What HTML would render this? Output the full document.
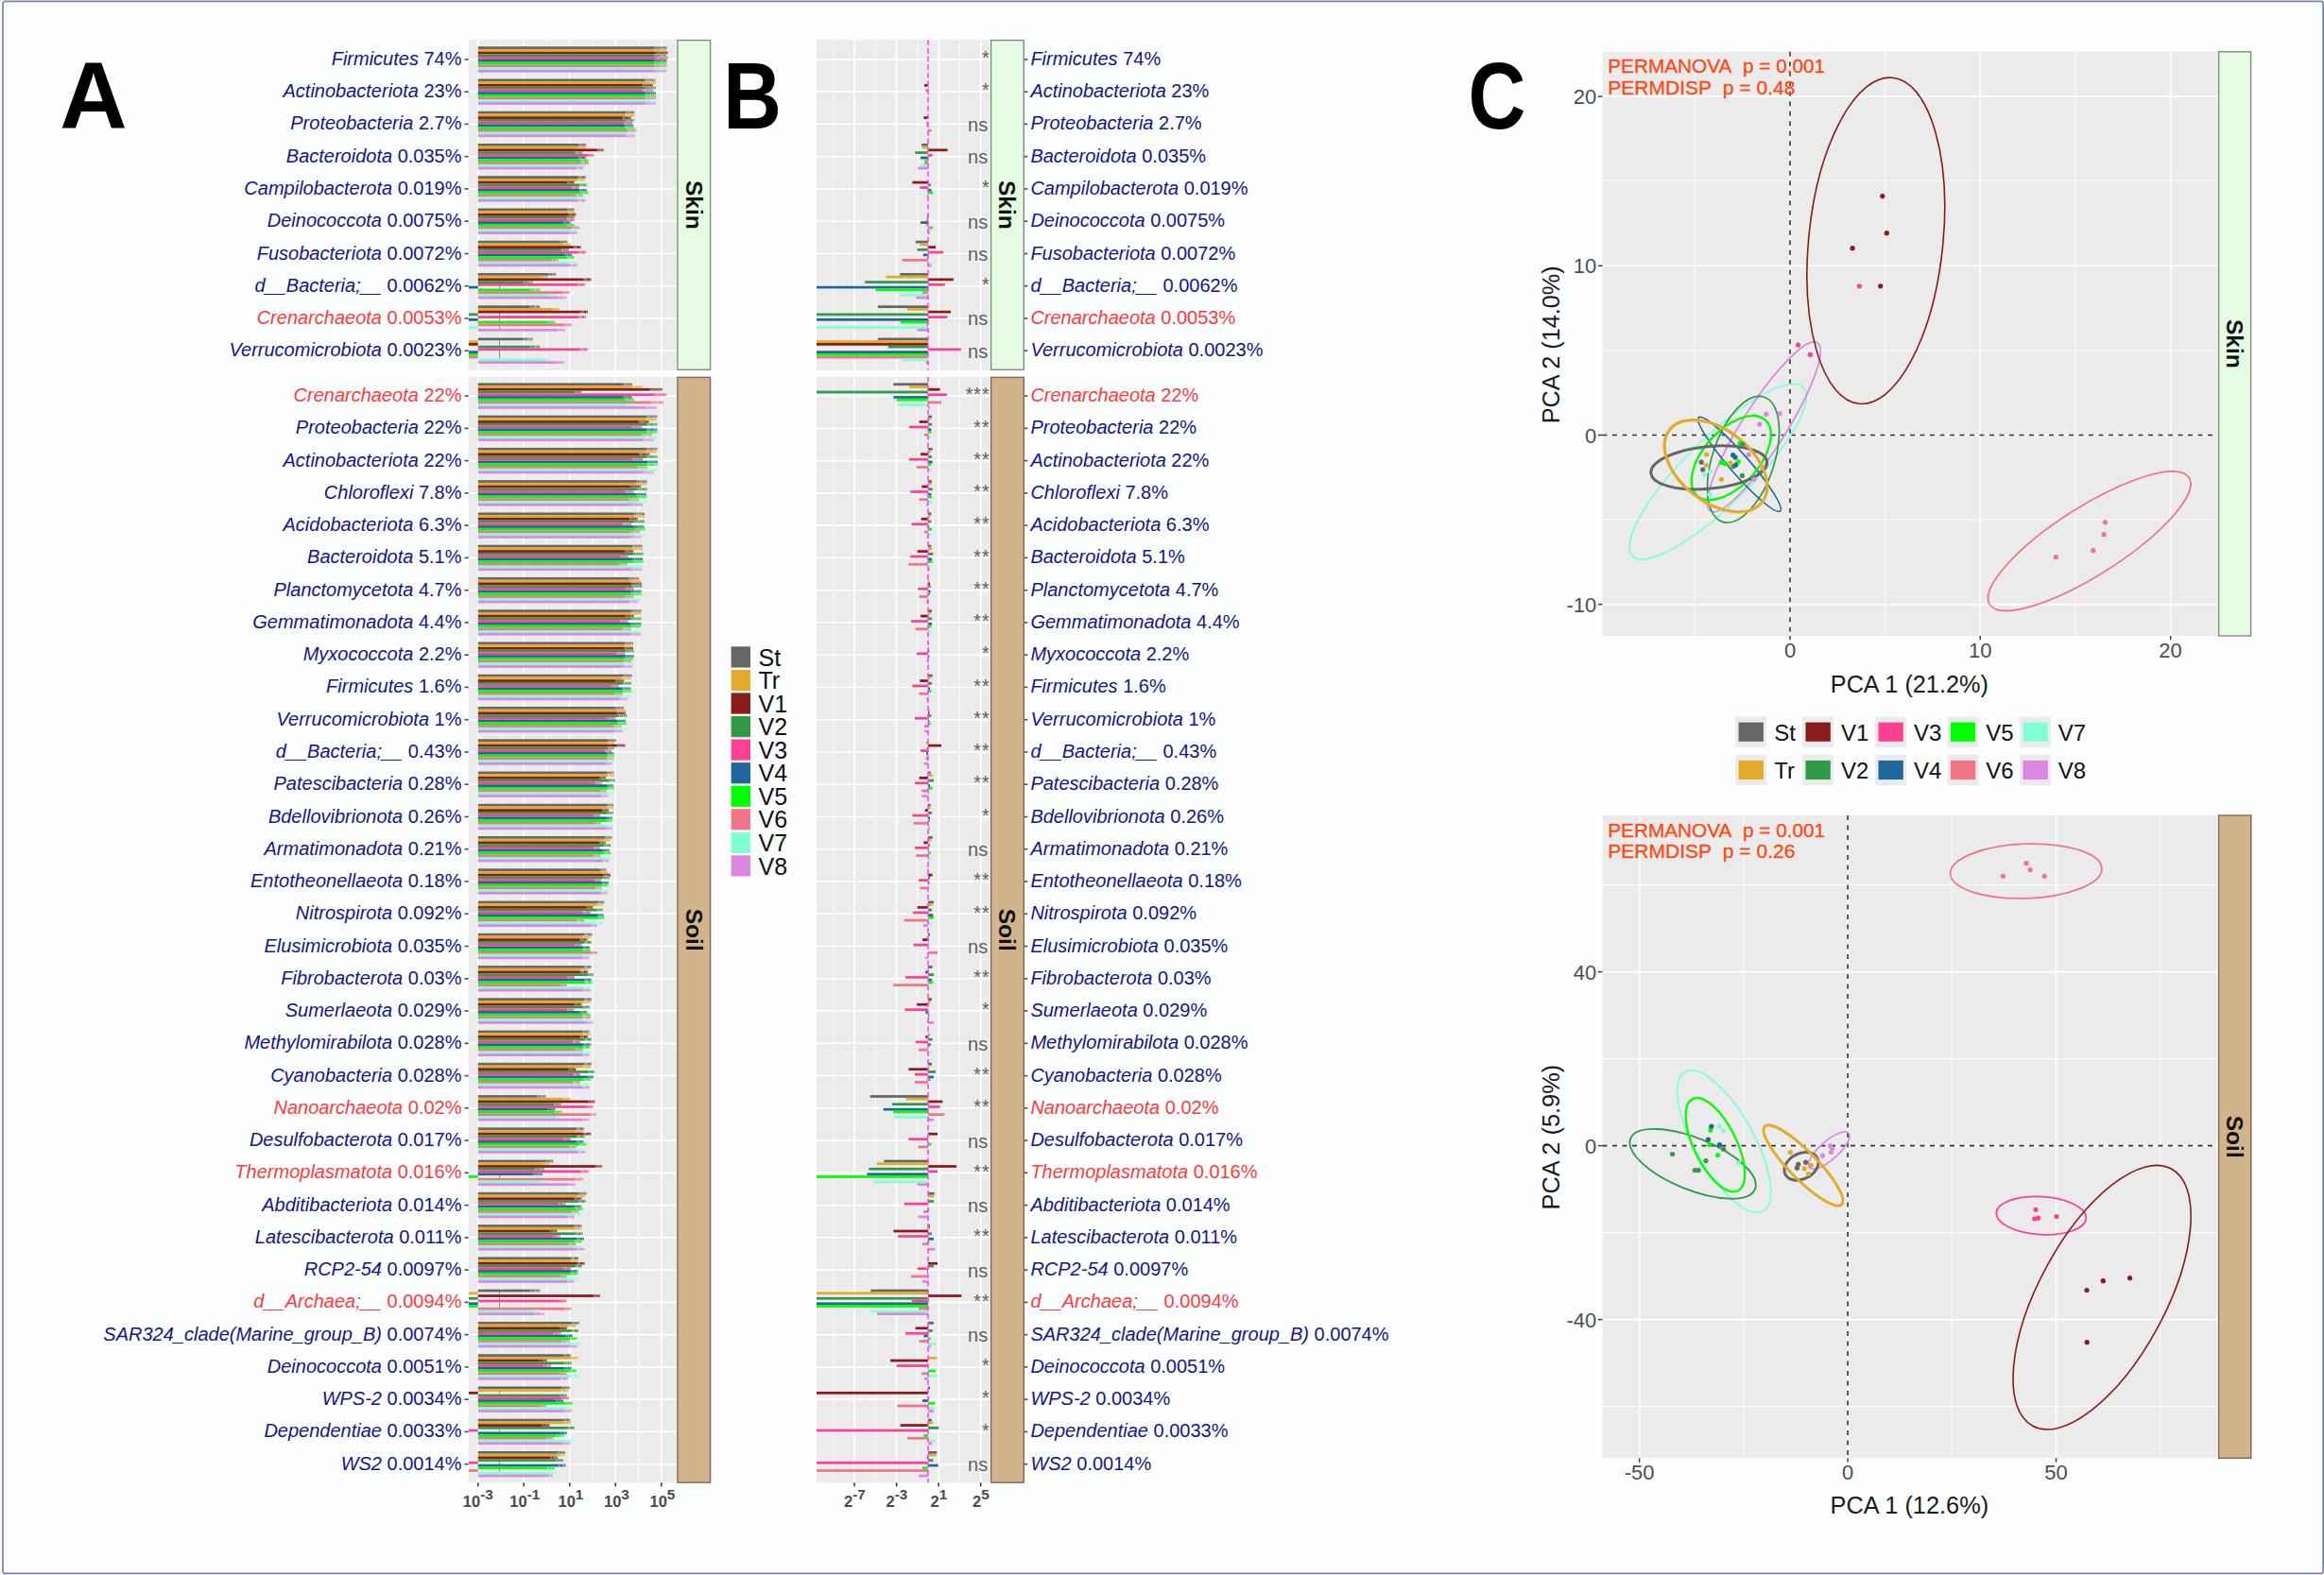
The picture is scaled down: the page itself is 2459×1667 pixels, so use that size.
<!DOCTYPE html>
<html lang="en"><head><meta charset="utf-8"><title>Figure</title>
<style>
html,body{margin:0;padding:0;background:#FBFCFE;}
body{width:2459px;height:1667px;overflow:hidden;}
svg{display:block;font-family:'Liberation Sans', Arial, sans-serif;}
.lab{font-size:20px;}
.it{font-style:italic;}
.navy{fill:#15158a;}
.red{fill:#ff3b3b;}
.sig{font-size:20px;fill:#5e5e5e;}
.sigs{font-size:19.5px;letter-spacing:1px;}
.ax{font-size:16.5px;font-weight:bold;fill:#4a4a4a;}
.sup{font-size:15.3px;}
.tk{font-size:22px;fill:#4d4d4d;}
.ttl{font-size:25px;fill:#1a1a1a;}
.leg{font-size:24px;fill:#111;}
.leg2{font-size:25px;fill:#111;}
.strip{font-size:24.6px;font-weight:bold;fill:#111;}
.big{font-size:101px;font-weight:bold;fill:#000;}
.perm{font-size:20.4px;fill:#ff4712;stroke:#ff4712;stroke-width:0.3px;}
.t{font-size:4px;font-weight:bold;fill:#fff;fill-opacity:0.6;text-anchor:end;}
</style></head><body>
<svg width="2459" height="1667" viewBox="0 0 2459 1667">
<rect x="0" y="0" width="2459" height="1667" fill="#FBFCFE"/>
<rect x="0" y="0" width="2459" height="1.2" fill="#DDE0EA"/>
<rect x="3" y="1.5" width="2455.1" height="1663.8" rx="2.5" fill="#FBFCFE" stroke="#7c80a6" stroke-width="1.7"/>
<rect x="57" y="33" width="2345" height="1590" fill="#FCFDFF"/>

<rect x="495.7" y="42.2" width="220.1" height="349.7" fill="#EBEBEB"/>
<path d="M530.00 42.2V391.9M578.50 42.2V391.9M627.00 42.2V391.9M675.50 42.2V391.9" stroke="#fff" stroke-width="0.8" fill="none"/>
<path d="M505.75 42.2V391.9M554.25 42.2V391.9M602.75 42.2V391.9M651.25 42.2V391.9M699.75 42.2V391.9" stroke="#fff" stroke-width="1.6" fill="none"/>
<path d="M495.7 62.90H715.8M495.7 97.16H715.8M495.7 131.42H715.8M495.7 165.68H715.8M495.7 199.94H715.8M495.7 234.20H715.8M495.7 268.46H715.8M495.7 302.72H715.8M495.7 336.98H715.8M495.7 371.24H715.8" stroke="#fff" stroke-width="1.6" fill="none"/>
<rect x="505.75" y="49.20" width="199.68" height="2.74" fill="#666666"/>
<text class="t" x="705.13" y="52.09">171462</text>
<rect x="505.75" y="51.94" width="199.68" height="2.74" fill="#E2AC2A"/>
<text class="t" x="705.13" y="54.83">171462</text>
<rect x="505.75" y="54.68" width="200.82" height="2.74" fill="#8B1A1A"/>
<text class="t" x="706.27" y="57.57">191116</text>
<rect x="505.75" y="57.42" width="199.68" height="2.74" fill="#329A47"/>
<text class="t" x="705.13" y="60.31">171462</text>
<rect x="505.75" y="60.16" width="200.82" height="2.74" fill="#FF3E96"/>
<text class="t" x="706.27" y="63.05">191116</text>
<rect x="505.75" y="62.90" width="199.68" height="2.74" fill="#1F6699"/>
<text class="t" x="705.13" y="65.79">171462</text>
<rect x="505.75" y="65.64" width="199.68" height="2.74" fill="#00FF00"/>
<text class="t" x="705.13" y="68.53">171462</text>
<rect x="505.75" y="68.38" width="199.68" height="2.74" fill="#F07585"/>
<text class="t" x="705.13" y="71.27">171462</text>
<rect x="505.75" y="71.12" width="199.68" height="2.74" fill="#7FFFD4"/>
<text class="t" x="705.13" y="74.01">171462</text>
<rect x="505.75" y="73.86" width="199.68" height="2.74" fill="#DB86E0"/>
<text class="t" x="705.13" y="76.75">171462</text>
<path d="M690.1 95.79H693.9" stroke="#fff" stroke-width="1.9" fill="none"/>
<rect x="505.75" y="83.46" width="187.68" height="2.74" fill="#666666"/>
<text class="t" x="693.13" y="86.35">54868</text>
<rect x="505.75" y="86.20" width="188.25" height="2.74" fill="#E2AC2A"/>
<text class="t" x="693.70" y="89.09">57928</text>
<rect x="505.75" y="88.94" width="184.82" height="2.74" fill="#8B1A1A"/>
<text class="t" x="690.27" y="91.83">41831</text>
<rect x="505.75" y="91.68" width="188.25" height="2.74" fill="#329A47"/>
<text class="t" x="693.70" y="94.57">57928</text>
<rect x="505.75" y="94.42" width="185.39" height="2.74" fill="#FF3E96"/>
<text class="t" x="690.84" y="97.31">44164</text>
<rect x="505.75" y="97.16" width="188.25" height="2.74" fill="#1F6699"/>
<text class="t" x="693.70" y="100.05">57928</text>
<rect x="505.75" y="99.90" width="188.25" height="2.74" fill="#00FF00"/>
<text class="t" x="693.70" y="102.79">57928</text>
<rect x="505.75" y="102.64" width="188.25" height="2.74" fill="#F07585"/>
<text class="t" x="693.70" y="105.53">57928</text>
<rect x="505.75" y="105.38" width="188.25" height="2.74" fill="#7FFFD4"/>
<text class="t" x="693.70" y="108.27">57928</text>
<rect x="505.75" y="108.12" width="188.25" height="2.74" fill="#DB86E0"/>
<text class="t" x="693.70" y="111.01">57928</text>
<rect x="505.75" y="117.72" width="165.39" height="2.74" fill="#666666"/>
<text class="t" x="670.84" y="120.61">6612</text>
<rect x="505.75" y="120.46" width="165.39" height="2.74" fill="#E2AC2A"/>
<text class="t" x="670.84" y="123.35">6612</text>
<rect x="505.75" y="123.20" width="161.96" height="2.74" fill="#8B1A1A"/>
<text class="t" x="667.41" y="126.09">4775</text>
<rect x="505.75" y="125.94" width="164.82" height="2.74" fill="#329A47"/>
<text class="t" x="670.27" y="128.83">6263</text>
<rect x="505.75" y="128.68" width="163.11" height="2.74" fill="#FF3E96"/>
<text class="t" x="668.56" y="131.57">5322</text>
<rect x="505.75" y="131.42" width="164.25" height="2.74" fill="#1F6699"/>
<text class="t" x="669.70" y="134.31">5932</text>
<rect x="505.75" y="134.16" width="165.39" height="2.74" fill="#00FF00"/>
<text class="t" x="670.84" y="137.05">6612</text>
<rect x="505.75" y="136.90" width="167.68" height="2.74" fill="#F07585"/>
<text class="t" x="673.13" y="139.79">8214</text>
<rect x="505.75" y="139.64" width="165.39" height="2.74" fill="#7FFFD4"/>
<text class="t" x="670.84" y="142.53">6612</text>
<rect x="505.75" y="142.38" width="165.96" height="2.74" fill="#DB86E0"/>
<text class="t" x="671.41" y="145.27">6981</text>
<rect x="505.75" y="151.98" width="114.54" height="2.74" fill="#666666"/>
<text class="t" x="619.99" y="154.87">52.9</text>
<rect x="505.75" y="154.72" width="114.54" height="2.74" fill="#E2AC2A"/>
<text class="t" x="619.99" y="157.61">52.9</text>
<rect x="505.75" y="157.46" width="132.82" height="2.74" fill="#8B1A1A"/>
<text class="t" x="638.27" y="160.35">300</text>
<rect x="505.75" y="160.20" width="110.54" height="2.74" fill="#329A47"/>
<text class="t" x="615.99" y="163.09">36.2</text>
<rect x="505.75" y="162.94" width="122.54" height="2.74" fill="#FF3E96"/>
<text class="t" x="627.99" y="165.83">113</text>
<rect x="505.75" y="165.68" width="113.96" height="2.74" fill="#1F6699"/>
<text class="t" x="619.41" y="168.57">50.1</text>
<rect x="505.75" y="168.42" width="116.82" height="2.74" fill="#00FF00"/>
<text class="t" x="622.27" y="171.31">65.7</text>
<rect x="505.75" y="171.16" width="116.82" height="2.74" fill="#F07585"/>
<text class="t" x="622.27" y="174.05">65.7</text>
<rect x="505.75" y="173.90" width="113.96" height="2.74" fill="#7FFFD4"/>
<text class="t" x="619.41" y="176.79">50.1</text>
<rect x="505.75" y="176.64" width="111.68" height="2.74" fill="#DB86E0"/>
<text class="t" x="617.13" y="179.53">40.3</text>
<path d="M611.9 198.57H618.8" stroke="#fff" stroke-width="1.9" fill="none"/>
<rect x="505.75" y="186.24" width="113.96" height="2.74" fill="#666666"/>
<text class="t" x="619.41" y="189.13">50.1</text>
<rect x="505.75" y="188.98" width="112.82" height="2.74" fill="#E2AC2A"/>
<text class="t" x="618.27" y="191.87">44.9</text>
<rect x="505.75" y="191.72" width="101.96" height="2.74" fill="#8B1A1A"/>
<text class="t" x="607.41" y="194.61">16.0</text>
<rect x="505.75" y="194.46" width="115.11" height="2.74" fill="#329A47"/>
<text class="t" x="620.56" y="197.35">55.8</text>
<rect x="505.75" y="197.20" width="107.11" height="2.74" fill="#FF3E96"/>
<text class="t" x="612.56" y="200.09">26.1</text>
<rect x="505.75" y="199.94" width="115.11" height="2.74" fill="#1F6699"/>
<text class="t" x="620.56" y="202.83">55.8</text>
<rect x="505.75" y="202.68" width="116.82" height="2.74" fill="#00FF00"/>
<text class="t" x="622.27" y="205.57">65.7</text>
<rect x="505.75" y="205.42" width="111.11" height="2.74" fill="#F07585"/>
<text class="t" x="616.56" y="208.31">38.2</text>
<rect x="505.75" y="208.16" width="113.39" height="2.74" fill="#7FFFD4"/>
<text class="t" x="618.84" y="211.05">47.4</text>
<rect x="505.75" y="210.90" width="113.96" height="2.74" fill="#DB86E0"/>
<text class="t" x="619.41" y="213.79">50.1</text>
<rect x="505.75" y="220.50" width="101.96" height="2.74" fill="#666666"/>
<text class="t" x="607.41" y="223.39">16.0</text>
<rect x="505.75" y="223.24" width="103.11" height="2.74" fill="#E2AC2A"/>
<text class="t" x="608.56" y="226.13">17.9</text>
<rect x="505.75" y="225.98" width="103.68" height="2.74" fill="#8B1A1A"/>
<text class="t" x="609.13" y="228.87">18.9</text>
<rect x="505.75" y="228.72" width="101.96" height="2.74" fill="#329A47"/>
<text class="t" x="607.41" y="231.61">16.0</text>
<rect x="505.75" y="231.46" width="101.96" height="2.74" fill="#FF3E96"/>
<text class="t" x="607.41" y="234.35">16.0</text>
<rect x="505.75" y="234.20" width="97.96" height="2.74" fill="#1F6699"/>
<text class="t" x="603.41" y="237.09">11.0</text>
<rect x="505.75" y="236.94" width="101.96" height="2.74" fill="#00FF00"/>
<text class="t" x="607.41" y="239.83">16.0</text>
<rect x="505.75" y="239.68" width="107.11" height="2.74" fill="#F07585"/>
<text class="t" x="612.56" y="242.57">26.1</text>
<rect x="505.75" y="242.42" width="105.96" height="2.74" fill="#7FFFD4"/>
<text class="t" x="611.41" y="245.31">23.4</text>
<rect x="505.75" y="245.16" width="104.82" height="2.74" fill="#DB86E0"/>
<text class="t" x="610.27" y="248.05">21.0</text>
<path d="M590.1 275.31H609.2" stroke="#fff" stroke-width="1.9" fill="none"/>
<rect x="505.75" y="254.76" width="94.54" height="2.74" fill="#666666"/>
<text class="t" x="599.99" y="257.65">7.91</text>
<rect x="505.75" y="257.50" width="97.96" height="2.74" fill="#E2AC2A"/>
<text class="t" x="603.41" y="260.39">11.0</text>
<rect x="505.75" y="260.24" width="108.82" height="2.74" fill="#8B1A1A"/>
<text class="t" x="614.27" y="263.13">30.7</text>
<rect x="505.75" y="262.98" width="96.25" height="2.74" fill="#329A47"/>
<text class="t" x="601.70" y="265.87">9.31</text>
<rect x="505.75" y="265.72" width="113.96" height="2.74" fill="#FF3E96"/>
<text class="t" x="619.41" y="268.61">50.1</text>
<rect x="505.75" y="268.46" width="99.68" height="2.74" fill="#1F6699"/>
<text class="t" x="605.13" y="271.35">12.9</text>
<rect x="505.75" y="271.20" width="101.96" height="2.74" fill="#00FF00"/>
<text class="t" x="607.41" y="274.09">16.0</text>
<rect x="505.75" y="273.94" width="85.39" height="2.74" fill="#F07585"/>
<text class="t" x="590.84" y="276.83">3.32</text>
<rect x="505.75" y="276.68" width="103.68" height="2.74" fill="#7FFFD4"/>
<text class="t" x="609.13" y="279.57">18.9</text>
<rect x="505.75" y="279.42" width="105.39" height="2.74" fill="#DB86E0"/>
<text class="t" x="610.84" y="282.31">22.2</text>
<path d="M602.1 309.57H607.6" stroke="#fff" stroke-width="1.9" fill="none"/>
<rect x="505.75" y="289.02" width="82.54" height="2.74" fill="#666666"/>
<text class="t" x="587.99" y="291.91">2.53</text>
<rect x="505.75" y="291.76" width="73.39" height="2.74" fill="#E2AC2A"/>
<text class="t" x="578.84" y="294.65">1.06</text>
<rect x="505.75" y="294.50" width="119.68" height="2.74" fill="#8B1A1A"/>
<text class="t" x="625.13" y="297.39">86.1</text>
<rect x="505.75" y="297.24" width="57.96" height="2.74" fill="#329A47"/>
<text class="t" x="563.41" y="300.13">0.246</text>
<rect x="505.75" y="299.98" width="113.39" height="2.74" fill="#FF3E96"/>
<text class="t" x="618.84" y="302.87">47.4</text>
<rect x="496.0" y="302.72" width="9.8" height="2.74" fill="#1F6699"/>
<path d="M528.6 302.12v3.94" stroke="#6a6a6a" stroke-width="0.7"/>
<rect x="505.75" y="305.46" width="65.39" height="2.74" fill="#00FF00"/>
<text class="t" x="570.84" y="308.35">0.497</text>
<rect x="505.75" y="308.20" width="97.39" height="2.74" fill="#F07585"/>
<text class="t" x="602.84" y="311.09">10.4</text>
<rect x="505.75" y="310.94" width="83.11" height="2.74" fill="#7FFFD4"/>
<text class="t" x="588.56" y="313.83">2.67</text>
<rect x="505.75" y="313.68" width="93.39" height="2.74" fill="#DB86E0"/>
<text class="t" x="598.84" y="316.57">7.10</text>
<rect x="505.75" y="323.28" width="65.39" height="2.74" fill="#666666"/>
<text class="t" x="570.84" y="326.17">0.497</text>
<rect x="505.75" y="326.02" width="85.96" height="2.74" fill="#E2AC2A"/>
<text class="t" x="591.41" y="328.91">3.51</text>
<rect x="505.75" y="328.76" width="116.25" height="2.74" fill="#8B1A1A"/>
<text class="t" x="621.70" y="331.65">62.2</text>
<rect x="496.0" y="331.50" width="9.8" height="2.74" fill="#329A47"/>
<path d="M528.6 330.90v3.94" stroke="#6a6a6a" stroke-width="0.7"/>
<rect x="505.75" y="334.24" width="113.96" height="2.74" fill="#FF3E96"/>
<text class="t" x="619.41" y="337.13">50.1</text>
<rect x="496.0" y="336.98" width="9.8" height="2.74" fill="#1F6699"/>
<path d="M528.6 336.38v3.94" stroke="#6a6a6a" stroke-width="0.7"/>
<rect x="505.75" y="339.72" width="81.39" height="2.74" fill="#00FF00"/>
<text class="t" x="586.84" y="342.61">2.27</text>
<rect x="505.75" y="342.46" width="99.11" height="2.74" fill="#F07585"/>
<text class="t" x="604.56" y="345.35">12.2</text>
<rect x="496.0" y="345.20" width="9.8" height="2.74" fill="#7FFFD4"/>
<path d="M528.6 344.60v3.94" stroke="#6a6a6a" stroke-width="0.7"/>
<rect x="505.75" y="347.94" width="92.25" height="2.74" fill="#DB86E0"/>
<text class="t" x="597.70" y="350.83">6.37</text>
<rect x="505.75" y="357.54" width="57.96" height="2.74" fill="#666666"/>
<text class="t" x="563.41" y="360.43">0.246</text>
<rect x="496.0" y="360.28" width="9.8" height="2.74" fill="#E2AC2A"/>
<path d="M528.6 359.68v3.94" stroke="#6a6a6a" stroke-width="0.7"/>
<rect x="496.0" y="363.02" width="9.8" height="2.74" fill="#8B1A1A"/>
<path d="M528.6 362.42v3.94" stroke="#6a6a6a" stroke-width="0.7"/>
<rect x="505.75" y="365.76" width="65.39" height="2.74" fill="#329A47"/>
<text class="t" x="570.84" y="368.65">0.497</text>
<rect x="505.75" y="368.50" width="116.25" height="2.74" fill="#FF3E96"/>
<text class="t" x="621.70" y="371.39">62.2</text>
<rect x="496.0" y="371.24" width="9.8" height="2.74" fill="#1F6699"/>
<path d="M528.6 370.64v3.94" stroke="#6a6a6a" stroke-width="0.7"/>
<rect x="496.0" y="373.98" width="9.8" height="2.74" fill="#00FF00"/>
<path d="M528.6 373.38v3.94" stroke="#6a6a6a" stroke-width="0.7"/>
<rect x="496.0" y="376.72" width="9.8" height="2.74" fill="#F07585"/>
<path d="M528.6 376.12v3.94" stroke="#6a6a6a" stroke-width="0.7"/>
<rect x="505.75" y="379.46" width="75.11" height="2.74" fill="#7FFFD4"/>
<text class="t" x="580.56" y="382.35">1.25</text>
<rect x="505.75" y="382.20" width="91.11" height="2.74" fill="#DB86E0"/>
<text class="t" x="596.56" y="385.09">5.71</text>
<rect x="495.7" y="399.0" width="220.1" height="1170.3" fill="#EBEBEB"/>
<path d="M530.00 399.0V1569.3M578.50 399.0V1569.3M627.00 399.0V1569.3M675.50 399.0V1569.3" stroke="#fff" stroke-width="0.8" fill="none"/>
<path d="M505.75 399.0V1569.3M554.25 399.0V1569.3M602.75 399.0V1569.3M651.25 399.0V1569.3M699.75 399.0V1569.3" stroke="#fff" stroke-width="1.6" fill="none"/>
<path d="M495.7 419.10H715.8M495.7 453.36H715.8M495.7 487.62H715.8M495.7 521.88H715.8M495.7 556.14H715.8M495.7 590.40H715.8M495.7 624.66H715.8M495.7 658.92H715.8M495.7 693.18H715.8M495.7 727.44H715.8M495.7 761.70H715.8M495.7 795.96H715.8M495.7 830.22H715.8M495.7 864.48H715.8M495.7 898.74H715.8M495.7 933.00H715.8M495.7 967.26H715.8M495.7 1001.52H715.8M495.7 1035.78H715.8M495.7 1070.04H715.8M495.7 1104.30H715.8M495.7 1138.56H715.8M495.7 1172.82H715.8M495.7 1207.08H715.8M495.7 1241.34H715.8M495.7 1275.60H715.8M495.7 1309.86H715.8M495.7 1344.12H715.8M495.7 1378.38H715.8M495.7 1412.64H715.8M495.7 1446.90H715.8M495.7 1481.16H715.8M495.7 1515.42H715.8M495.7 1549.68H715.8" stroke="#fff" stroke-width="1.6" fill="none"/>
<path d="M614.3 414.99H692.5" stroke="#fff" stroke-width="1.9" fill="none"/>
<rect x="505.75" y="405.40" width="162.92" height="2.74" fill="#666666"/>
<text class="t" x="668.37" y="408.29">5227</text>
<rect x="505.75" y="408.14" width="173.58" height="2.74" fill="#E2AC2A"/>
<text class="t" x="679.03" y="411.03">14390</text>
<rect x="505.75" y="410.88" width="194.92" height="2.74" fill="#8B1A1A"/>
<text class="t" x="700.37" y="413.77">109094</text>
<rect x="505.75" y="413.62" width="109.58" height="2.74" fill="#329A47"/>
<text class="t" x="615.03" y="416.51">33.0</text>
<rect x="505.75" y="416.36" width="199.58" height="2.74" fill="#FF3E96"/>
<text class="t" x="705.03" y="419.25">169918</text>
<rect x="505.75" y="419.10" width="162.92" height="2.74" fill="#1F6699"/>
<text class="t" x="668.37" y="421.99">5227</text>
<rect x="505.75" y="421.84" width="164.92" height="2.74" fill="#00FF00"/>
<text class="t" x="670.37" y="424.73">6320</text>
<rect x="505.75" y="424.58" width="196.25" height="2.74" fill="#F07585"/>
<text class="t" x="701.70" y="427.47">123818</text>
<rect x="505.75" y="427.32" width="165.58" height="2.74" fill="#7FFFD4"/>
<text class="t" x="671.03" y="430.21">6733</text>
<rect x="505.75" y="430.06" width="188.92" height="2.74" fill="#DB86E0"/>
<text class="t" x="694.37" y="432.95">61713</text>
<path d="M678.3 451.99H692.7M689.0 460.21H692.7" stroke="#fff" stroke-width="1.9" fill="none"/>
<rect x="505.75" y="439.66" width="189.58" height="2.74" fill="#666666"/>
<text class="t" x="695.03" y="442.55">65746</text>
<rect x="505.75" y="442.40" width="188.92" height="2.74" fill="#E2AC2A"/>
<text class="t" x="694.37" y="445.29">61713</text>
<rect x="505.75" y="445.14" width="180.92" height="2.74" fill="#8B1A1A"/>
<text class="t" x="686.37" y="448.03">28872</text>
<rect x="505.75" y="447.88" width="189.58" height="2.74" fill="#329A47"/>
<text class="t" x="695.03" y="450.77">65746</text>
<rect x="505.75" y="450.62" width="173.58" height="2.74" fill="#FF3E96"/>
<text class="t" x="679.03" y="453.51">14390</text>
<rect x="505.75" y="453.36" width="189.58" height="2.74" fill="#1F6699"/>
<text class="t" x="695.03" y="456.25">65746</text>
<rect x="505.75" y="456.10" width="189.58" height="2.74" fill="#00FF00"/>
<text class="t" x="695.03" y="458.99">65746</text>
<rect x="505.75" y="458.84" width="184.25" height="2.74" fill="#F07585"/>
<text class="t" x="689.70" y="461.73">39622</text>
<rect x="505.75" y="461.58" width="188.92" height="2.74" fill="#7FFFD4"/>
<text class="t" x="694.37" y="464.47">61713</text>
<rect x="505.75" y="464.32" width="186.25" height="2.74" fill="#DB86E0"/>
<text class="t" x="691.70" y="467.21">47908</text>
<path d="M679.0 486.25H692.8M684.3 494.47H692.8" stroke="#fff" stroke-width="1.9" fill="none"/>
<rect x="505.75" y="473.92" width="189.58" height="2.74" fill="#666666"/>
<text class="t" x="695.03" y="476.81">65746</text>
<rect x="505.75" y="476.66" width="188.92" height="2.74" fill="#E2AC2A"/>
<text class="t" x="694.37" y="479.55">61713</text>
<rect x="505.75" y="479.40" width="181.58" height="2.74" fill="#8B1A1A"/>
<text class="t" x="687.03" y="482.29">30759</text>
<rect x="505.75" y="482.14" width="189.58" height="2.74" fill="#329A47"/>
<text class="t" x="695.03" y="485.03">65746</text>
<rect x="505.75" y="484.88" width="174.25" height="2.74" fill="#FF3E96"/>
<text class="t" x="679.70" y="487.77">15331</text>
<rect x="505.75" y="487.62" width="190.25" height="2.74" fill="#1F6699"/>
<text class="t" x="695.70" y="490.51">70042</text>
<rect x="505.75" y="490.36" width="189.58" height="2.74" fill="#00FF00"/>
<text class="t" x="695.03" y="493.25">65746</text>
<rect x="505.75" y="493.10" width="179.58" height="2.74" fill="#F07585"/>
<text class="t" x="685.03" y="495.99">25439</text>
<rect x="505.75" y="495.84" width="188.92" height="2.74" fill="#7FFFD4"/>
<text class="t" x="694.37" y="498.73">61713</text>
<rect x="505.75" y="498.58" width="186.25" height="2.74" fill="#DB86E0"/>
<text class="t" x="691.70" y="501.47">47908</text>
<path d="M669.0 520.51H682.0M675.0 528.73H682.0" stroke="#fff" stroke-width="1.9" fill="none"/>
<rect x="505.75" y="508.18" width="178.92" height="2.74" fill="#666666"/>
<text class="t" x="684.37" y="511.07">23878</text>
<rect x="505.75" y="510.92" width="178.25" height="2.74" fill="#E2AC2A"/>
<text class="t" x="683.70" y="513.81">22414</text>
<rect x="505.75" y="513.66" width="172.25" height="2.74" fill="#8B1A1A"/>
<text class="t" x="677.70" y="516.55">12679</text>
<rect x="505.75" y="516.40" width="178.92" height="2.74" fill="#329A47"/>
<text class="t" x="684.37" y="519.29">23878</text>
<rect x="505.75" y="519.14" width="164.25" height="2.74" fill="#FF3E96"/>
<text class="t" x="669.70" y="522.03">5932</text>
<rect x="505.75" y="521.88" width="178.25" height="2.74" fill="#1F6699"/>
<text class="t" x="683.70" y="524.77">22414</text>
<rect x="505.75" y="524.62" width="178.92" height="2.74" fill="#00FF00"/>
<text class="t" x="684.37" y="527.51">23878</text>
<rect x="505.75" y="527.36" width="170.25" height="2.74" fill="#F07585"/>
<text class="t" x="675.70" y="530.25">10486</text>
<rect x="505.75" y="530.10" width="178.92" height="2.74" fill="#7FFFD4"/>
<text class="t" x="684.37" y="532.99">23878</text>
<rect x="505.75" y="532.84" width="174.25" height="2.74" fill="#DB86E0"/>
<text class="t" x="679.70" y="535.73">15331</text>
<path d="M667.0 554.77H679.9M676.3 562.99H679.9" stroke="#fff" stroke-width="1.9" fill="none"/>
<rect x="505.75" y="542.44" width="176.25" height="2.74" fill="#666666"/>
<text class="t" x="681.70" y="545.33">18537</text>
<rect x="505.75" y="545.18" width="176.25" height="2.74" fill="#E2AC2A"/>
<text class="t" x="681.70" y="548.07">18537</text>
<rect x="505.75" y="547.92" width="168.92" height="2.74" fill="#8B1A1A"/>
<text class="t" x="674.37" y="550.81">9239</text>
<rect x="505.75" y="550.66" width="176.25" height="2.74" fill="#329A47"/>
<text class="t" x="681.70" y="553.55">18537</text>
<rect x="505.75" y="553.40" width="162.25" height="2.74" fill="#FF3E96"/>
<text class="t" x="667.70" y="556.29">4906</text>
<rect x="505.75" y="556.14" width="175.58" height="2.74" fill="#1F6699"/>
<text class="t" x="681.03" y="559.03">17400</text>
<rect x="505.75" y="558.88" width="176.92" height="2.74" fill="#00FF00"/>
<text class="t" x="682.37" y="561.77">19748</text>
<rect x="505.75" y="561.62" width="171.58" height="2.74" fill="#F07585"/>
<text class="t" x="677.03" y="564.51">11901</text>
<rect x="505.75" y="564.36" width="176.25" height="2.74" fill="#7FFFD4"/>
<text class="t" x="681.70" y="567.25">18537</text>
<rect x="505.75" y="567.10" width="172.92" height="2.74" fill="#DB86E0"/>
<text class="t" x="678.37" y="569.99">13508</text>
<path d="M663.7 589.03H677.4M663.0 597.25H677.4" stroke="#fff" stroke-width="1.9" fill="none"/>
<rect x="505.75" y="576.70" width="173.58" height="2.74" fill="#666666"/>
<text class="t" x="679.03" y="579.59">14390</text>
<rect x="505.75" y="579.44" width="174.25" height="2.74" fill="#E2AC2A"/>
<text class="t" x="679.70" y="582.33">15331</text>
<rect x="505.75" y="582.18" width="164.25" height="2.74" fill="#8B1A1A"/>
<text class="t" x="669.70" y="585.07">5932</text>
<rect x="505.75" y="584.92" width="174.92" height="2.74" fill="#329A47"/>
<text class="t" x="680.37" y="587.81">16333</text>
<rect x="505.75" y="587.66" width="158.92" height="2.74" fill="#FF3E96"/>
<text class="t" x="664.37" y="590.55">3575</text>
<rect x="505.75" y="590.40" width="174.25" height="2.74" fill="#1F6699"/>
<text class="t" x="679.70" y="593.29">15331</text>
<rect x="505.75" y="593.14" width="174.92" height="2.74" fill="#00FF00"/>
<text class="t" x="680.37" y="596.03">16333</text>
<rect x="505.75" y="595.88" width="158.25" height="2.74" fill="#F07585"/>
<text class="t" x="663.70" y="598.77">3356</text>
<rect x="505.75" y="598.62" width="174.25" height="2.74" fill="#7FFFD4"/>
<text class="t" x="679.70" y="601.51">15331</text>
<rect x="505.75" y="601.36" width="173.58" height="2.74" fill="#DB86E0"/>
<text class="t" x="679.03" y="604.25">14390</text>
<path d="M669.7 623.29H677.2M669.7 631.51H677.2" stroke="#fff" stroke-width="1.9" fill="none"/>
<rect x="505.75" y="610.96" width="170.25" height="2.74" fill="#666666"/>
<text class="t" x="675.70" y="613.85">10486</text>
<rect x="505.75" y="613.70" width="172.25" height="2.74" fill="#E2AC2A"/>
<text class="t" x="677.70" y="616.59">12679</text>
<rect x="505.75" y="616.44" width="172.92" height="2.74" fill="#8B1A1A"/>
<text class="t" x="678.37" y="619.33">13508</text>
<rect x="505.75" y="619.18" width="173.58" height="2.74" fill="#329A47"/>
<text class="t" x="679.03" y="622.07">14390</text>
<rect x="505.75" y="621.92" width="164.92" height="2.74" fill="#FF3E96"/>
<text class="t" x="670.37" y="624.81">6320</text>
<rect x="505.75" y="624.66" width="172.92" height="2.74" fill="#1F6699"/>
<text class="t" x="678.37" y="627.55">13508</text>
<rect x="505.75" y="627.40" width="172.92" height="2.74" fill="#00FF00"/>
<text class="t" x="678.37" y="630.29">13508</text>
<rect x="505.75" y="630.14" width="164.92" height="2.74" fill="#F07585"/>
<text class="t" x="670.37" y="633.03">6320</text>
<rect x="505.75" y="632.88" width="172.25" height="2.74" fill="#7FFFD4"/>
<text class="t" x="677.70" y="635.77">12679</text>
<rect x="505.75" y="635.62" width="169.58" height="2.74" fill="#DB86E0"/>
<text class="t" x="675.03" y="638.51">9843</text>
<path d="M663.7 657.55H676.1M667.0 665.77H676.1" stroke="#fff" stroke-width="1.9" fill="none"/>
<rect x="505.75" y="645.22" width="172.92" height="2.74" fill="#666666"/>
<text class="t" x="678.37" y="648.11">13508</text>
<rect x="505.75" y="647.96" width="172.25" height="2.74" fill="#E2AC2A"/>
<text class="t" x="677.70" y="650.85">12679</text>
<rect x="505.75" y="650.70" width="164.92" height="2.74" fill="#8B1A1A"/>
<text class="t" x="670.37" y="653.59">6320</text>
<rect x="505.75" y="653.44" width="172.92" height="2.74" fill="#329A47"/>
<text class="t" x="678.37" y="656.33">13508</text>
<rect x="505.75" y="656.18" width="158.92" height="2.74" fill="#FF3E96"/>
<text class="t" x="664.37" y="659.07">3575</text>
<rect x="505.75" y="658.92" width="172.92" height="2.74" fill="#1F6699"/>
<text class="t" x="678.37" y="661.81">13508</text>
<rect x="505.75" y="661.66" width="172.25" height="2.74" fill="#00FF00"/>
<text class="t" x="677.70" y="664.55">12679</text>
<rect x="505.75" y="664.40" width="162.25" height="2.74" fill="#F07585"/>
<text class="t" x="667.70" y="667.29">4906</text>
<rect x="505.75" y="667.14" width="172.25" height="2.74" fill="#7FFFD4"/>
<text class="t" x="677.70" y="670.03">12679</text>
<rect x="505.75" y="669.88" width="172.25" height="2.74" fill="#DB86E0"/>
<text class="t" x="677.70" y="672.77">12679</text>
<path d="M660.3 691.81H669.4" stroke="#fff" stroke-width="1.9" fill="none"/>
<rect x="505.75" y="679.48" width="164.25" height="2.74" fill="#666666"/>
<text class="t" x="669.70" y="682.37">5932</text>
<rect x="505.75" y="682.22" width="163.58" height="2.74" fill="#E2AC2A"/>
<text class="t" x="669.03" y="685.11">5568</text>
<rect x="505.75" y="684.96" width="164.25" height="2.74" fill="#8B1A1A"/>
<text class="t" x="669.70" y="687.85">5932</text>
<rect x="505.75" y="687.70" width="164.92" height="2.74" fill="#329A47"/>
<text class="t" x="670.37" y="690.59">6320</text>
<rect x="505.75" y="690.44" width="155.58" height="2.74" fill="#FF3E96"/>
<text class="t" x="661.03" y="693.33">2605</text>
<rect x="505.75" y="693.18" width="164.92" height="2.74" fill="#1F6699"/>
<text class="t" x="670.37" y="696.07">6320</text>
<rect x="505.75" y="695.92" width="164.25" height="2.74" fill="#00FF00"/>
<text class="t" x="669.70" y="698.81">5932</text>
<rect x="505.75" y="698.66" width="162.25" height="2.74" fill="#F07585"/>
<text class="t" x="667.70" y="701.55">4906</text>
<rect x="505.75" y="701.40" width="164.25" height="2.74" fill="#7FFFD4"/>
<text class="t" x="669.70" y="704.29">5932</text>
<rect x="505.75" y="704.14" width="162.92" height="2.74" fill="#DB86E0"/>
<text class="t" x="668.37" y="707.03">5227</text>
<path d="M653.7 726.07H665.6M658.3 734.29H665.6" stroke="#fff" stroke-width="1.9" fill="none"/>
<rect x="505.75" y="713.74" width="162.92" height="2.74" fill="#666666"/>
<text class="t" x="668.37" y="716.63">5227</text>
<rect x="505.75" y="716.48" width="161.58" height="2.74" fill="#E2AC2A"/>
<text class="t" x="667.03" y="719.37">4605</text>
<rect x="505.75" y="719.22" width="154.25" height="2.74" fill="#8B1A1A"/>
<text class="t" x="659.70" y="722.11">2295</text>
<rect x="505.75" y="721.96" width="162.25" height="2.74" fill="#329A47"/>
<text class="t" x="667.70" y="724.85">4906</text>
<rect x="505.75" y="724.70" width="148.92" height="2.74" fill="#FF3E96"/>
<text class="t" x="654.37" y="727.59">1383</text>
<rect x="505.75" y="727.44" width="161.58" height="2.74" fill="#1F6699"/>
<text class="t" x="667.03" y="730.33">4605</text>
<rect x="505.75" y="730.18" width="162.25" height="2.74" fill="#00FF00"/>
<text class="t" x="667.70" y="733.07">4906</text>
<rect x="505.75" y="732.92" width="153.58" height="2.74" fill="#F07585"/>
<text class="t" x="659.03" y="735.81">2154</text>
<rect x="505.75" y="735.66" width="161.58" height="2.74" fill="#7FFFD4"/>
<text class="t" x="667.03" y="738.55">4605</text>
<rect x="505.75" y="738.40" width="158.25" height="2.74" fill="#DB86E0"/>
<text class="t" x="663.70" y="741.29">3356</text>
<path d="M650.3 760.33H661.0M657.0 768.55H661.0" stroke="#fff" stroke-width="1.9" fill="none"/>
<rect x="505.75" y="748.00" width="154.25" height="2.74" fill="#666666"/>
<text class="t" x="659.70" y="750.89">2295</text>
<rect x="505.75" y="750.74" width="156.25" height="2.74" fill="#E2AC2A"/>
<text class="t" x="661.70" y="753.63">2775</text>
<rect x="505.75" y="753.48" width="156.25" height="2.74" fill="#8B1A1A"/>
<text class="t" x="661.70" y="756.37">2775</text>
<rect x="505.75" y="756.22" width="157.58" height="2.74" fill="#329A47"/>
<text class="t" x="663.03" y="759.11">3150</text>
<rect x="505.75" y="758.96" width="145.58" height="2.74" fill="#FF3E96"/>
<text class="t" x="651.03" y="761.85">1008</text>
<rect x="505.75" y="761.70" width="156.25" height="2.74" fill="#1F6699"/>
<text class="t" x="661.70" y="764.59">2775</text>
<rect x="505.75" y="764.44" width="156.92" height="2.74" fill="#00FF00"/>
<text class="t" x="662.37" y="767.33">2957</text>
<rect x="505.75" y="767.18" width="152.25" height="2.74" fill="#F07585"/>
<text class="t" x="657.70" y="770.07">1898</text>
<rect x="505.75" y="769.92" width="155.58" height="2.74" fill="#7FFFD4"/>
<text class="t" x="661.03" y="772.81">2605</text>
<rect x="505.75" y="772.66" width="152.92" height="2.74" fill="#DB86E0"/>
<text class="t" x="658.37" y="775.55">2022</text>
<path d="M645.7 794.59H651.1" stroke="#fff" stroke-width="1.9" fill="none"/>
<rect x="505.75" y="782.26" width="146.25" height="2.74" fill="#666666"/>
<text class="t" x="651.70" y="785.15">1074</text>
<rect x="505.75" y="785.00" width="144.25" height="2.74" fill="#E2AC2A"/>
<text class="t" x="649.70" y="787.89">888</text>
<rect x="505.75" y="787.74" width="155.58" height="2.74" fill="#8B1A1A"/>
<text class="t" x="661.03" y="790.63">2605</text>
<rect x="505.75" y="790.48" width="144.25" height="2.74" fill="#329A47"/>
<text class="t" x="649.70" y="793.37">888</text>
<rect x="505.75" y="793.22" width="140.92" height="2.74" fill="#FF3E96"/>
<text class="t" x="646.37" y="796.11">647</text>
<rect x="505.75" y="795.96" width="143.58" height="2.74" fill="#1F6699"/>
<text class="t" x="649.03" y="798.85">834</text>
<rect x="505.75" y="798.70" width="144.25" height="2.74" fill="#00FF00"/>
<text class="t" x="649.70" y="801.59">888</text>
<rect x="505.75" y="801.44" width="143.58" height="2.74" fill="#F07585"/>
<text class="t" x="649.03" y="804.33">834</text>
<rect x="505.75" y="804.18" width="144.25" height="2.74" fill="#7FFFD4"/>
<text class="t" x="649.70" y="807.07">888</text>
<rect x="505.75" y="806.92" width="142.25" height="2.74" fill="#DB86E0"/>
<text class="t" x="647.70" y="809.81">734</text>
<path d="M635.7 828.85H646.9M641.0 837.07H646.9" stroke="#fff" stroke-width="1.9" fill="none"/>
<rect x="505.75" y="816.52" width="143.58" height="2.74" fill="#666666"/>
<text class="t" x="649.03" y="819.41">834</text>
<rect x="505.75" y="819.26" width="144.25" height="2.74" fill="#E2AC2A"/>
<text class="t" x="649.70" y="822.15">888</text>
<rect x="505.75" y="822.00" width="134.92" height="2.74" fill="#8B1A1A"/>
<text class="t" x="640.37" y="824.89">366</text>
<rect x="505.75" y="824.74" width="144.92" height="2.74" fill="#329A47"/>
<text class="t" x="650.37" y="827.63">946</text>
<rect x="505.75" y="827.48" width="130.92" height="2.74" fill="#FF3E96"/>
<text class="t" x="636.37" y="830.37">250</text>
<rect x="505.75" y="830.22" width="142.92" height="2.74" fill="#1F6699"/>
<text class="t" x="648.37" y="833.11">782</text>
<rect x="505.75" y="832.96" width="144.25" height="2.74" fill="#00FF00"/>
<text class="t" x="649.70" y="835.85">888</text>
<rect x="505.75" y="835.70" width="136.25" height="2.74" fill="#F07585"/>
<text class="t" x="641.70" y="838.59">415</text>
<rect x="505.75" y="838.44" width="142.92" height="2.74" fill="#7FFFD4"/>
<text class="t" x="648.37" y="841.33">782</text>
<rect x="505.75" y="841.18" width="136.92" height="2.74" fill="#DB86E0"/>
<text class="t" x="642.37" y="844.07">443</text>
<path d="M633.7 863.11H646.7M635.0 871.33H646.7" stroke="#fff" stroke-width="1.9" fill="none"/>
<rect x="505.75" y="850.78" width="142.92" height="2.74" fill="#666666"/>
<text class="t" x="648.37" y="853.67">782</text>
<rect x="505.75" y="853.52" width="142.92" height="2.74" fill="#E2AC2A"/>
<text class="t" x="648.37" y="856.41">782</text>
<rect x="505.75" y="856.26" width="138.25" height="2.74" fill="#8B1A1A"/>
<text class="t" x="643.70" y="859.15">502</text>
<rect x="505.75" y="859.00" width="142.92" height="2.74" fill="#329A47"/>
<text class="t" x="648.37" y="861.89">782</text>
<rect x="505.75" y="861.74" width="128.92" height="2.74" fill="#FF3E96"/>
<text class="t" x="634.37" y="864.63">207</text>
<rect x="505.75" y="864.48" width="142.25" height="2.74" fill="#1F6699"/>
<text class="t" x="647.70" y="867.37">734</text>
<rect x="505.75" y="867.22" width="142.25" height="2.74" fill="#00FF00"/>
<text class="t" x="647.70" y="870.11">734</text>
<rect x="505.75" y="869.96" width="130.25" height="2.74" fill="#F07585"/>
<text class="t" x="635.70" y="872.85">235</text>
<rect x="505.75" y="872.70" width="142.25" height="2.74" fill="#7FFFD4"/>
<text class="t" x="647.70" y="875.59">734</text>
<rect x="505.75" y="875.44" width="142.25" height="2.74" fill="#DB86E0"/>
<text class="t" x="647.70" y="878.33">734</text>
<path d="M633.7 897.37H644.0M634.3 905.59H644.0" stroke="#fff" stroke-width="1.9" fill="none"/>
<rect x="505.75" y="885.04" width="141.58" height="2.74" fill="#666666"/>
<text class="t" x="647.03" y="887.93">689</text>
<rect x="505.75" y="887.78" width="140.25" height="2.74" fill="#E2AC2A"/>
<text class="t" x="645.70" y="890.67">607</text>
<rect x="505.75" y="890.52" width="134.92" height="2.74" fill="#8B1A1A"/>
<text class="t" x="640.37" y="893.41">366</text>
<rect x="505.75" y="893.26" width="140.25" height="2.74" fill="#329A47"/>
<text class="t" x="645.70" y="896.15">607</text>
<rect x="505.75" y="896.00" width="128.92" height="2.74" fill="#FF3E96"/>
<text class="t" x="634.37" y="898.89">207</text>
<rect x="505.75" y="898.74" width="138.92" height="2.74" fill="#1F6699"/>
<text class="t" x="644.37" y="901.63">535</text>
<rect x="505.75" y="901.48" width="140.25" height="2.74" fill="#00FF00"/>
<text class="t" x="645.70" y="904.37">607</text>
<rect x="505.75" y="904.22" width="129.58" height="2.74" fill="#F07585"/>
<text class="t" x="635.03" y="907.11">221</text>
<rect x="505.75" y="906.96" width="140.92" height="2.74" fill="#7FFFD4"/>
<text class="t" x="646.37" y="909.85">647</text>
<rect x="505.75" y="909.70" width="138.25" height="2.74" fill="#DB86E0"/>
<text class="t" x="643.70" y="912.59">502</text>
<path d="M635.0 931.63H642.9M635.7 939.85H642.9" stroke="#fff" stroke-width="1.9" fill="none"/>
<rect x="505.75" y="919.30" width="135.58" height="2.74" fill="#666666"/>
<text class="t" x="641.03" y="922.19">390</text>
<rect x="505.75" y="922.04" width="137.58" height="2.74" fill="#E2AC2A"/>
<text class="t" x="643.03" y="924.93">472</text>
<rect x="505.75" y="924.78" width="140.25" height="2.74" fill="#8B1A1A"/>
<text class="t" x="645.70" y="927.67">607</text>
<rect x="505.75" y="927.52" width="138.92" height="2.74" fill="#329A47"/>
<text class="t" x="644.37" y="930.41">535</text>
<rect x="505.75" y="930.26" width="130.25" height="2.74" fill="#FF3E96"/>
<text class="t" x="635.70" y="933.15">235</text>
<rect x="505.75" y="933.00" width="138.25" height="2.74" fill="#1F6699"/>
<text class="t" x="643.70" y="935.89">502</text>
<rect x="505.75" y="935.74" width="137.58" height="2.74" fill="#00FF00"/>
<text class="t" x="643.03" y="938.63">472</text>
<rect x="505.75" y="938.48" width="130.92" height="2.74" fill="#F07585"/>
<text class="t" x="636.37" y="941.37">250</text>
<rect x="505.75" y="941.22" width="137.58" height="2.74" fill="#7FFFD4"/>
<text class="t" x="643.03" y="944.11">472</text>
<rect x="505.75" y="943.96" width="136.92" height="2.74" fill="#DB86E0"/>
<text class="t" x="642.37" y="946.85">443</text>
<path d="M623.7 965.89H635.2M617.7 974.11H635.2" stroke="#fff" stroke-width="1.9" fill="none"/>
<rect x="505.75" y="953.56" width="133.58" height="2.74" fill="#666666"/>
<text class="t" x="639.03" y="956.45">323</text>
<rect x="505.75" y="956.30" width="132.25" height="2.74" fill="#E2AC2A"/>
<text class="t" x="637.70" y="959.19">284</text>
<rect x="505.75" y="959.04" width="121.58" height="2.74" fill="#8B1A1A"/>
<text class="t" x="627.03" y="961.93">103</text>
<rect x="505.75" y="961.78" width="132.25" height="2.74" fill="#329A47"/>
<text class="t" x="637.70" y="964.67">284</text>
<rect x="505.75" y="964.52" width="118.92" height="2.74" fill="#FF3E96"/>
<text class="t" x="624.37" y="967.41">80.1</text>
<rect x="505.75" y="967.26" width="132.92" height="2.74" fill="#1F6699"/>
<text class="t" x="638.37" y="970.15">303</text>
<rect x="505.75" y="970.00" width="133.58" height="2.74" fill="#00FF00"/>
<text class="t" x="639.03" y="972.89">323</text>
<rect x="505.75" y="972.74" width="112.92" height="2.74" fill="#F07585"/>
<text class="t" x="618.37" y="975.63">45.3</text>
<rect x="505.75" y="975.48" width="131.58" height="2.74" fill="#7FFFD4"/>
<text class="t" x="637.03" y="978.37">267</text>
<rect x="505.75" y="978.22" width="126.25" height="2.74" fill="#DB86E0"/>
<text class="t" x="631.70" y="981.11">161</text>
<path d="M614.3 1000.15H625.3" stroke="#fff" stroke-width="1.9" fill="none"/>
<rect x="505.75" y="987.82" width="120.92" height="2.74" fill="#666666"/>
<text class="t" x="626.37" y="990.71">96.9</text>
<rect x="505.75" y="990.56" width="118.92" height="2.74" fill="#E2AC2A"/>
<text class="t" x="624.37" y="993.45">80.1</text>
<rect x="505.75" y="993.30" width="115.58" height="2.74" fill="#8B1A1A"/>
<text class="t" x="621.03" y="996.19">58.4</text>
<rect x="505.75" y="996.04" width="120.25" height="2.74" fill="#329A47"/>
<text class="t" x="625.70" y="998.93">90.9</text>
<rect x="505.75" y="998.78" width="109.58" height="2.74" fill="#FF3E96"/>
<text class="t" x="615.03" y="1001.67">33.0</text>
<rect x="505.75" y="1001.52" width="118.25" height="2.74" fill="#1F6699"/>
<text class="t" x="623.70" y="1004.41">75.2</text>
<rect x="505.75" y="1004.26" width="118.92" height="2.74" fill="#00FF00"/>
<text class="t" x="624.37" y="1007.15">80.1</text>
<rect x="505.75" y="1007.00" width="126.25" height="2.74" fill="#F07585"/>
<text class="t" x="631.70" y="1009.89">161</text>
<rect x="505.75" y="1009.74" width="118.25" height="2.74" fill="#7FFFD4"/>
<text class="t" x="623.70" y="1012.63">75.2</text>
<rect x="505.75" y="1012.48" width="117.58" height="2.74" fill="#DB86E0"/>
<text class="t" x="623.03" y="1015.37">70.6</text>
<path d="M607.0 1034.41H623.7M599.0 1042.63H623.7" stroke="#fff" stroke-width="1.9" fill="none"/>
<rect x="505.75" y="1022.08" width="120.25" height="2.74" fill="#666666"/>
<text class="t" x="625.70" y="1024.97">90.9</text>
<rect x="505.75" y="1024.82" width="116.92" height="2.74" fill="#E2AC2A"/>
<text class="t" x="622.37" y="1027.71">66.3</text>
<rect x="505.75" y="1027.56" width="116.25" height="2.74" fill="#8B1A1A"/>
<text class="t" x="621.70" y="1030.45">62.2</text>
<rect x="505.75" y="1030.30" width="122.25" height="2.74" fill="#329A47"/>
<text class="t" x="627.70" y="1033.19">110</text>
<rect x="505.75" y="1033.04" width="102.25" height="2.74" fill="#FF3E96"/>
<text class="t" x="607.70" y="1035.93">16.5</text>
<rect x="505.75" y="1035.78" width="120.25" height="2.74" fill="#1F6699"/>
<text class="t" x="625.70" y="1038.67">90.9</text>
<rect x="505.75" y="1038.52" width="120.92" height="2.74" fill="#00FF00"/>
<text class="t" x="626.37" y="1041.41">96.9</text>
<rect x="505.75" y="1041.26" width="94.25" height="2.74" fill="#F07585"/>
<text class="t" x="599.70" y="1044.15">7.70</text>
<rect x="505.75" y="1044.00" width="119.58" height="2.74" fill="#7FFFD4"/>
<text class="t" x="625.03" y="1046.89">85.4</text>
<rect x="505.75" y="1046.74" width="118.92" height="2.74" fill="#DB86E0"/>
<text class="t" x="624.37" y="1049.63">80.1</text>
<path d="M606.3 1068.67H623.5" stroke="#fff" stroke-width="1.9" fill="none"/>
<rect x="505.75" y="1056.34" width="120.25" height="2.74" fill="#666666"/>
<text class="t" x="625.70" y="1059.23">90.9</text>
<rect x="505.75" y="1059.08" width="119.58" height="2.74" fill="#E2AC2A"/>
<text class="t" x="625.03" y="1061.97">85.4</text>
<rect x="505.75" y="1061.82" width="109.58" height="2.74" fill="#8B1A1A"/>
<text class="t" x="615.03" y="1064.71">33.0</text>
<rect x="505.75" y="1064.56" width="118.25" height="2.74" fill="#329A47"/>
<text class="t" x="623.70" y="1067.45">75.2</text>
<rect x="505.75" y="1067.30" width="101.58" height="2.74" fill="#FF3E96"/>
<text class="t" x="607.03" y="1070.19">15.5</text>
<rect x="505.75" y="1070.04" width="115.58" height="2.74" fill="#1F6699"/>
<text class="t" x="621.03" y="1072.93">58.4</text>
<rect x="505.75" y="1072.78" width="118.92" height="2.74" fill="#00FF00"/>
<text class="t" x="624.37" y="1075.67">80.1</text>
<rect x="505.75" y="1075.52" width="118.92" height="2.74" fill="#F07585"/>
<text class="t" x="624.37" y="1078.41">80.1</text>
<rect x="505.75" y="1078.26" width="118.25" height="2.74" fill="#7FFFD4"/>
<text class="t" x="623.70" y="1081.15">75.2</text>
<rect x="505.75" y="1081.00" width="121.58" height="2.74" fill="#DB86E0"/>
<text class="t" x="627.03" y="1083.89">103</text>
<path d="M613.0 1102.93H623.3M615.7 1111.15H623.3" stroke="#fff" stroke-width="1.9" fill="none"/>
<rect x="505.75" y="1090.60" width="117.58" height="2.74" fill="#666666"/>
<text class="t" x="623.03" y="1093.49">70.6</text>
<rect x="505.75" y="1093.34" width="118.92" height="2.74" fill="#E2AC2A"/>
<text class="t" x="624.37" y="1096.23">80.1</text>
<rect x="505.75" y="1096.08" width="116.25" height="2.74" fill="#8B1A1A"/>
<text class="t" x="621.70" y="1098.97">62.2</text>
<rect x="505.75" y="1098.82" width="120.25" height="2.74" fill="#329A47"/>
<text class="t" x="625.70" y="1101.71">90.9</text>
<rect x="505.75" y="1101.56" width="108.25" height="2.74" fill="#FF3E96"/>
<text class="t" x="613.70" y="1104.45">29.1</text>
<rect x="505.75" y="1104.30" width="119.58" height="2.74" fill="#1F6699"/>
<text class="t" x="625.03" y="1107.19">85.4</text>
<rect x="505.75" y="1107.04" width="118.25" height="2.74" fill="#00FF00"/>
<text class="t" x="623.70" y="1109.93">75.2</text>
<rect x="505.75" y="1109.78" width="110.92" height="2.74" fill="#F07585"/>
<text class="t" x="616.37" y="1112.67">37.5</text>
<rect x="505.75" y="1112.52" width="119.58" height="2.74" fill="#7FFFD4"/>
<text class="t" x="625.03" y="1115.41">85.4</text>
<rect x="505.75" y="1115.26" width="117.58" height="2.74" fill="#DB86E0"/>
<text class="t" x="623.03" y="1118.15">70.6</text>
<path d="M613.0 1137.19H623.4M613.0 1145.41H623.4" stroke="#fff" stroke-width="1.9" fill="none"/>
<rect x="505.75" y="1124.86" width="120.25" height="2.74" fill="#666666"/>
<text class="t" x="625.70" y="1127.75">90.9</text>
<rect x="505.75" y="1127.60" width="118.92" height="2.74" fill="#E2AC2A"/>
<text class="t" x="624.37" y="1130.49">80.1</text>
<rect x="505.75" y="1130.34" width="103.58" height="2.74" fill="#8B1A1A"/>
<text class="t" x="609.03" y="1133.23">18.7</text>
<rect x="505.75" y="1133.08" width="122.92" height="2.74" fill="#329A47"/>
<text class="t" x="628.37" y="1135.97">117</text>
<rect x="505.75" y="1135.82" width="108.25" height="2.74" fill="#FF3E96"/>
<text class="t" x="613.70" y="1138.71">29.1</text>
<rect x="505.75" y="1138.56" width="122.25" height="2.74" fill="#1F6699"/>
<text class="t" x="627.70" y="1141.45">110</text>
<rect x="505.75" y="1141.30" width="119.58" height="2.74" fill="#00FF00"/>
<text class="t" x="625.03" y="1144.19">85.4</text>
<rect x="505.75" y="1144.04" width="108.25" height="2.74" fill="#F07585"/>
<text class="t" x="613.70" y="1146.93">29.1</text>
<rect x="505.75" y="1146.78" width="116.92" height="2.74" fill="#7FFFD4"/>
<text class="t" x="622.37" y="1149.67">66.3</text>
<rect x="505.75" y="1149.52" width="118.25" height="2.74" fill="#DB86E0"/>
<text class="t" x="623.70" y="1152.41">75.2</text>
<rect x="505.75" y="1159.12" width="72.25" height="2.74" fill="#666666"/>
<text class="t" x="577.70" y="1162.01">0.954</text>
<rect x="505.75" y="1161.86" width="97.58" height="2.74" fill="#E2AC2A"/>
<text class="t" x="603.03" y="1164.75">10.6</text>
<rect x="505.75" y="1164.60" width="123.58" height="2.74" fill="#8B1A1A"/>
<text class="t" x="629.03" y="1167.49">125</text>
<rect x="505.75" y="1167.34" width="88.25" height="2.74" fill="#329A47"/>
<text class="t" x="593.70" y="1170.23">4.36</text>
<rect x="505.75" y="1170.08" width="121.58" height="2.74" fill="#FF3E96"/>
<text class="t" x="627.03" y="1172.97">103</text>
<rect x="505.75" y="1172.82" width="81.58" height="2.74" fill="#1F6699"/>
<text class="t" x="587.03" y="1175.71">2.31</text>
<rect x="505.75" y="1175.56" width="88.92" height="2.74" fill="#00FF00"/>
<text class="t" x="594.37" y="1178.45">4.64</text>
<rect x="505.75" y="1178.30" width="124.92" height="2.74" fill="#F07585"/>
<text class="t" x="630.37" y="1181.19">142</text>
<rect x="505.75" y="1181.04" width="89.58" height="2.74" fill="#7FFFD4"/>
<text class="t" x="595.03" y="1183.93">4.94</text>
<rect x="505.75" y="1183.78" width="117.58" height="2.74" fill="#DB86E0"/>
<text class="t" x="623.03" y="1186.67">70.6</text>
<path d="M603.0 1205.71H617.9M609.7 1213.93H617.9" stroke="#fff" stroke-width="1.9" fill="none"/>
<rect x="505.75" y="1193.38" width="112.25" height="2.74" fill="#666666"/>
<text class="t" x="617.70" y="1196.27">42.5</text>
<rect x="505.75" y="1196.12" width="110.92" height="2.74" fill="#E2AC2A"/>
<text class="t" x="616.37" y="1199.01">37.5</text>
<rect x="505.75" y="1198.86" width="119.58" height="2.74" fill="#8B1A1A"/>
<text class="t" x="625.03" y="1201.75">85.4</text>
<rect x="505.75" y="1201.60" width="112.92" height="2.74" fill="#329A47"/>
<text class="t" x="618.37" y="1204.49">45.3</text>
<rect x="505.75" y="1204.34" width="98.25" height="2.74" fill="#FF3E96"/>
<text class="t" x="603.70" y="1207.23">11.3</text>
<rect x="505.75" y="1207.08" width="111.58" height="2.74" fill="#1F6699"/>
<text class="t" x="617.03" y="1209.97">39.9</text>
<rect x="505.75" y="1209.82" width="114.92" height="2.74" fill="#00FF00"/>
<text class="t" x="620.37" y="1212.71">54.8</text>
<rect x="505.75" y="1212.56" width="104.92" height="2.74" fill="#F07585"/>
<text class="t" x="610.37" y="1215.45">21.2</text>
<rect x="505.75" y="1215.30" width="110.92" height="2.74" fill="#7FFFD4"/>
<text class="t" x="616.37" y="1218.19">37.5</text>
<rect x="505.75" y="1218.04" width="113.58" height="2.74" fill="#DB86E0"/>
<text class="t" x="619.03" y="1220.93">48.3</text>
<rect x="505.75" y="1227.64" width="79.58" height="2.74" fill="#666666"/>
<text class="t" x="585.03" y="1230.53">1.91</text>
<rect x="505.75" y="1230.38" width="75.58" height="2.74" fill="#E2AC2A"/>
<text class="t" x="581.03" y="1233.27">1.31</text>
<rect x="505.75" y="1233.12" width="130.92" height="2.74" fill="#8B1A1A"/>
<text class="t" x="636.37" y="1236.01">250</text>
<rect x="505.75" y="1235.86" width="70.25" height="2.74" fill="#329A47"/>
<text class="t" x="575.70" y="1238.75">0.789</text>
<rect x="505.75" y="1238.60" width="116.92" height="2.74" fill="#FF3E96"/>
<text class="t" x="622.37" y="1241.49">66.3</text>
<rect x="505.75" y="1241.34" width="68.25" height="2.74" fill="#1F6699"/>
<text class="t" x="573.70" y="1244.23">0.652</text>
<rect x="496.0" y="1244.08" width="9.8" height="2.74" fill="#00FF00"/>
<path d="M528.6 1243.48v3.94" stroke="#6a6a6a" stroke-width="0.7"/>
<rect x="505.75" y="1246.82" width="110.92" height="2.74" fill="#F07585"/>
<text class="t" x="616.37" y="1249.71">37.5</text>
<rect x="505.75" y="1249.56" width="72.92" height="2.74" fill="#7FFFD4"/>
<text class="t" x="578.37" y="1252.45">1.02</text>
<rect x="505.75" y="1252.30" width="102.92" height="2.74" fill="#DB86E0"/>
<text class="t" x="608.37" y="1255.19">17.5</text>
<path d="M597.7 1274.23H615.3M611.7 1282.45H615.3" stroke="#fff" stroke-width="1.9" fill="none"/>
<rect x="505.75" y="1261.90" width="114.92" height="2.74" fill="#666666"/>
<text class="t" x="620.37" y="1264.79">54.8</text>
<rect x="505.75" y="1264.64" width="112.92" height="2.74" fill="#E2AC2A"/>
<text class="t" x="618.37" y="1267.53">45.3</text>
<rect x="505.75" y="1267.38" width="109.58" height="2.74" fill="#8B1A1A"/>
<text class="t" x="615.03" y="1270.27">33.0</text>
<rect x="505.75" y="1270.12" width="114.25" height="2.74" fill="#329A47"/>
<text class="t" x="619.70" y="1273.01">51.4</text>
<rect x="505.75" y="1272.86" width="92.92" height="2.74" fill="#FF3E96"/>
<text class="t" x="598.37" y="1275.75">6.79</text>
<rect x="505.75" y="1275.60" width="109.58" height="2.74" fill="#1F6699"/>
<text class="t" x="615.03" y="1278.49">33.0</text>
<rect x="505.75" y="1278.34" width="110.92" height="2.74" fill="#00FF00"/>
<text class="t" x="616.37" y="1281.23">37.5</text>
<rect x="505.75" y="1281.08" width="106.92" height="2.74" fill="#F07585"/>
<text class="t" x="612.37" y="1283.97">25.6</text>
<rect x="505.75" y="1283.82" width="109.58" height="2.74" fill="#7FFFD4"/>
<text class="t" x="615.03" y="1286.71">33.0</text>
<rect x="505.75" y="1286.56" width="102.25" height="2.74" fill="#DB86E0"/>
<text class="t" x="607.70" y="1289.45">16.5</text>
<path d="M591.7 1308.49H614.0M608.3 1316.71H614.0" stroke="#fff" stroke-width="1.9" fill="none"/>
<rect x="505.75" y="1296.16" width="109.58" height="2.74" fill="#666666"/>
<text class="t" x="615.03" y="1299.05">33.0</text>
<rect x="505.75" y="1298.90" width="109.58" height="2.74" fill="#E2AC2A"/>
<text class="t" x="615.03" y="1301.79">33.0</text>
<rect x="505.75" y="1301.64" width="83.58" height="2.74" fill="#8B1A1A"/>
<text class="t" x="589.03" y="1304.53">2.80</text>
<rect x="505.75" y="1304.38" width="110.92" height="2.74" fill="#329A47"/>
<text class="t" x="616.37" y="1307.27">37.5</text>
<rect x="505.75" y="1307.12" width="86.92" height="2.74" fill="#FF3E96"/>
<text class="t" x="592.37" y="1310.01">3.84</text>
<rect x="505.75" y="1309.86" width="112.25" height="2.74" fill="#1F6699"/>
<text class="t" x="617.70" y="1312.75">42.5</text>
<rect x="505.75" y="1312.60" width="109.58" height="2.74" fill="#00FF00"/>
<text class="t" x="615.03" y="1315.49">33.0</text>
<rect x="505.75" y="1315.34" width="103.58" height="2.74" fill="#F07585"/>
<text class="t" x="609.03" y="1318.23">18.7</text>
<rect x="505.75" y="1318.08" width="108.92" height="2.74" fill="#7FFFD4"/>
<text class="t" x="614.37" y="1320.97">31.0</text>
<rect x="505.75" y="1320.82" width="112.92" height="2.74" fill="#DB86E0"/>
<text class="t" x="618.37" y="1323.71">45.3</text>
<path d="M603.0 1342.75H611.8M599.0 1350.97H611.8" stroke="#fff" stroke-width="1.9" fill="none"/>
<rect x="505.75" y="1330.42" width="106.25" height="2.74" fill="#666666"/>
<text class="t" x="611.70" y="1333.31">24.1</text>
<rect x="505.75" y="1333.16" width="105.58" height="2.74" fill="#E2AC2A"/>
<text class="t" x="611.03" y="1336.05">22.6</text>
<rect x="505.75" y="1335.90" width="112.92" height="2.74" fill="#8B1A1A"/>
<text class="t" x="618.37" y="1338.79">45.3</text>
<rect x="505.75" y="1338.64" width="110.25" height="2.74" fill="#329A47"/>
<text class="t" x="615.70" y="1341.53">35.2</text>
<rect x="505.75" y="1341.38" width="98.25" height="2.74" fill="#FF3E96"/>
<text class="t" x="603.70" y="1344.27">11.3</text>
<rect x="505.75" y="1344.12" width="105.58" height="2.74" fill="#1F6699"/>
<text class="t" x="611.03" y="1347.01">22.6</text>
<rect x="505.75" y="1346.86" width="105.58" height="2.74" fill="#00FF00"/>
<text class="t" x="611.03" y="1349.75">22.6</text>
<rect x="505.75" y="1349.60" width="94.25" height="2.74" fill="#F07585"/>
<text class="t" x="599.70" y="1352.49">7.70</text>
<rect x="505.75" y="1352.34" width="106.92" height="2.74" fill="#7FFFD4"/>
<text class="t" x="612.37" y="1355.23">25.6</text>
<rect x="505.75" y="1355.08" width="101.58" height="2.74" fill="#DB86E0"/>
<text class="t" x="607.03" y="1357.97">15.5</text>
<rect x="505.75" y="1364.68" width="65.58" height="2.74" fill="#666666"/>
<text class="t" x="571.03" y="1367.57">0.506</text>
<rect x="496.0" y="1367.42" width="9.8" height="2.74" fill="#E2AC2A"/>
<path d="M528.6 1366.82v3.94" stroke="#6a6a6a" stroke-width="0.7"/>
<rect x="505.75" y="1370.16" width="128.92" height="2.74" fill="#8B1A1A"/>
<text class="t" x="634.37" y="1373.05">207</text>
<rect x="496.0" y="1372.90" width="9.8" height="2.74" fill="#329A47"/>
<path d="M528.6 1372.30v3.94" stroke="#6a6a6a" stroke-width="0.7"/>
<rect x="505.75" y="1375.64" width="93.58" height="2.74" fill="#FF3E96"/>
<text class="t" x="599.03" y="1378.53">7.23</text>
<rect x="496.0" y="1378.38" width="9.8" height="2.74" fill="#1F6699"/>
<path d="M528.6 1377.78v3.94" stroke="#6a6a6a" stroke-width="0.7"/>
<rect x="496.0" y="1381.12" width="9.8" height="2.74" fill="#00FF00"/>
<path d="M528.6 1380.52v3.94" stroke="#6a6a6a" stroke-width="0.7"/>
<rect x="505.75" y="1383.86" width="98.92" height="2.74" fill="#F07585"/>
<text class="t" x="604.37" y="1386.75">12.0</text>
<rect x="505.75" y="1386.60" width="65.58" height="2.74" fill="#7FFFD4"/>
<text class="t" x="571.03" y="1389.49">0.506</text>
<rect x="505.75" y="1389.34" width="70.25" height="2.74" fill="#DB86E0"/>
<text class="t" x="575.70" y="1392.23">0.789</text>
<path d="M592.3 1411.27H608.9M601.7 1419.49H608.9" stroke="#fff" stroke-width="1.9" fill="none"/>
<rect x="505.75" y="1398.94" width="106.92" height="2.74" fill="#666666"/>
<text class="t" x="612.37" y="1401.83">25.6</text>
<rect x="505.75" y="1401.68" width="103.58" height="2.74" fill="#E2AC2A"/>
<text class="t" x="609.03" y="1404.57">18.7</text>
<rect x="505.75" y="1404.42" width="94.25" height="2.74" fill="#8B1A1A"/>
<text class="t" x="599.70" y="1407.31">7.70</text>
<rect x="505.75" y="1407.16" width="106.25" height="2.74" fill="#329A47"/>
<text class="t" x="611.70" y="1410.05">24.1</text>
<rect x="505.75" y="1409.90" width="87.58" height="2.74" fill="#FF3E96"/>
<text class="t" x="593.03" y="1412.79">4.09</text>
<rect x="505.75" y="1412.64" width="100.25" height="2.74" fill="#1F6699"/>
<text class="t" x="605.70" y="1415.53">13.6</text>
<rect x="505.75" y="1415.38" width="104.92" height="2.74" fill="#00FF00"/>
<text class="t" x="610.37" y="1418.27">21.2</text>
<rect x="505.75" y="1418.12" width="96.92" height="2.74" fill="#F07585"/>
<text class="t" x="602.37" y="1421.01">9.92</text>
<rect x="505.75" y="1420.86" width="108.92" height="2.74" fill="#7FFFD4"/>
<text class="t" x="614.37" y="1423.75">31.0</text>
<rect x="505.75" y="1423.60" width="104.92" height="2.74" fill="#DB86E0"/>
<text class="t" x="610.37" y="1426.49">21.2</text>
<path d="M581.7 1445.53H604.7M599.0 1453.75H604.7" stroke="#fff" stroke-width="1.9" fill="none"/>
<rect x="505.75" y="1433.20" width="98.25" height="2.74" fill="#666666"/>
<text class="t" x="603.70" y="1436.09">11.3</text>
<rect x="505.75" y="1435.94" width="105.58" height="2.74" fill="#E2AC2A"/>
<text class="t" x="611.03" y="1438.83">22.6</text>
<rect x="505.75" y="1438.68" width="72.92" height="2.74" fill="#8B1A1A"/>
<text class="t" x="578.37" y="1441.57">1.02</text>
<rect x="505.75" y="1441.42" width="98.92" height="2.74" fill="#329A47"/>
<text class="t" x="604.37" y="1444.31">12.0</text>
<rect x="505.75" y="1444.16" width="76.92" height="2.74" fill="#FF3E96"/>
<text class="t" x="582.37" y="1447.05">1.49</text>
<rect x="505.75" y="1446.90" width="98.92" height="2.74" fill="#1F6699"/>
<text class="t" x="604.37" y="1449.79">12.0</text>
<rect x="505.75" y="1449.64" width="104.25" height="2.74" fill="#00FF00"/>
<text class="t" x="609.70" y="1452.53">19.9</text>
<rect x="505.75" y="1452.38" width="94.25" height="2.74" fill="#F07585"/>
<text class="t" x="599.70" y="1455.27">7.70</text>
<rect x="505.75" y="1455.12" width="106.25" height="2.74" fill="#7FFFD4"/>
<text class="t" x="611.70" y="1458.01">24.1</text>
<rect x="505.75" y="1457.86" width="95.58" height="2.74" fill="#DB86E0"/>
<text class="t" x="601.03" y="1460.75">8.74</text>
<path d="M577.7 1488.01H600.7" stroke="#fff" stroke-width="1.9" fill="none"/>
<rect x="505.75" y="1467.46" width="96.92" height="2.74" fill="#666666"/>
<text class="t" x="602.37" y="1470.35">9.92</text>
<rect x="505.75" y="1470.20" width="95.58" height="2.74" fill="#E2AC2A"/>
<text class="t" x="601.03" y="1473.09">8.74</text>
<rect x="496.0" y="1472.94" width="9.8" height="2.74" fill="#8B1A1A"/>
<path d="M528.6 1472.34v3.94" stroke="#6a6a6a" stroke-width="0.7"/>
<rect x="505.75" y="1475.68" width="94.25" height="2.74" fill="#329A47"/>
<text class="t" x="599.70" y="1478.57">7.70</text>
<rect x="505.75" y="1478.42" width="96.25" height="2.74" fill="#FF3E96"/>
<text class="t" x="601.70" y="1481.31">9.31</text>
<rect x="505.75" y="1481.16" width="90.25" height="2.74" fill="#1F6699"/>
<text class="t" x="595.70" y="1484.05">5.27</text>
<rect x="505.75" y="1483.90" width="100.25" height="2.74" fill="#00FF00"/>
<text class="t" x="605.70" y="1486.79">13.6</text>
<rect x="505.75" y="1486.64" width="72.92" height="2.74" fill="#F07585"/>
<text class="t" x="578.37" y="1489.53">1.02</text>
<rect x="505.75" y="1489.38" width="98.92" height="2.74" fill="#7FFFD4"/>
<text class="t" x="604.37" y="1492.27">12.0</text>
<rect x="505.75" y="1492.12" width="98.92" height="2.74" fill="#DB86E0"/>
<text class="t" x="604.37" y="1495.01">12.0</text>
<path d="M585.0 1522.27H600.6" stroke="#fff" stroke-width="1.9" fill="none"/>
<rect x="505.75" y="1501.72" width="97.58" height="2.74" fill="#666666"/>
<text class="t" x="603.03" y="1504.61">10.6</text>
<rect x="505.75" y="1504.46" width="98.25" height="2.74" fill="#E2AC2A"/>
<text class="t" x="603.70" y="1507.35">11.3</text>
<rect x="505.75" y="1507.20" width="75.58" height="2.74" fill="#8B1A1A"/>
<text class="t" x="581.03" y="1510.09">1.31</text>
<rect x="505.75" y="1509.94" width="102.25" height="2.74" fill="#329A47"/>
<text class="t" x="607.70" y="1512.83">16.5</text>
<rect x="496.0" y="1512.68" width="9.8" height="2.74" fill="#FF3E96"/>
<path d="M528.6 1512.08v3.94" stroke="#6a6a6a" stroke-width="0.7"/>
<rect x="505.75" y="1515.42" width="94.25" height="2.74" fill="#1F6699"/>
<text class="t" x="599.70" y="1518.31">7.70</text>
<rect x="505.75" y="1518.16" width="90.92" height="2.74" fill="#00FF00"/>
<text class="t" x="596.37" y="1521.05">5.61</text>
<rect x="505.75" y="1520.90" width="80.25" height="2.74" fill="#F07585"/>
<text class="t" x="585.70" y="1523.79">2.04</text>
<rect x="505.75" y="1523.64" width="100.25" height="2.74" fill="#7FFFD4"/>
<text class="t" x="605.70" y="1526.53">13.6</text>
<rect x="505.75" y="1526.38" width="97.58" height="2.74" fill="#DB86E0"/>
<text class="t" x="603.03" y="1529.27">10.6</text>
<rect x="505.75" y="1535.98" width="92.25" height="2.74" fill="#666666"/>
<text class="t" x="597.70" y="1538.87">6.37</text>
<rect x="505.75" y="1538.72" width="91.58" height="2.74" fill="#E2AC2A"/>
<text class="t" x="597.03" y="1541.61">5.98</text>
<rect x="505.75" y="1541.46" width="84.25" height="2.74" fill="#8B1A1A"/>
<text class="t" x="589.70" y="1544.35">2.98</text>
<rect x="505.75" y="1544.20" width="90.25" height="2.74" fill="#329A47"/>
<text class="t" x="595.70" y="1547.09">5.27</text>
<rect x="496.0" y="1546.94" width="9.8" height="2.74" fill="#FF3E96"/>
<path d="M528.6 1546.34v3.94" stroke="#6a6a6a" stroke-width="0.7"/>
<rect x="505.75" y="1549.68" width="92.92" height="2.74" fill="#1F6699"/>
<text class="t" x="598.37" y="1552.57">6.79</text>
<rect x="505.75" y="1552.42" width="80.92" height="2.74" fill="#00FF00"/>
<text class="t" x="586.37" y="1555.31">2.17</text>
<rect x="496.0" y="1555.16" width="9.8" height="2.74" fill="#F07585"/>
<path d="M528.6 1554.56v3.94" stroke="#6a6a6a" stroke-width="0.7"/>
<rect x="505.75" y="1557.90" width="83.58" height="2.74" fill="#7FFFD4"/>
<text class="t" x="589.03" y="1560.79">2.80</text>
<rect x="505.75" y="1560.64" width="78.92" height="2.74" fill="#DB86E0"/>
<text class="t" x="584.37" y="1563.53">1.80</text>
<rect x="716.9" y="42.6" width="34.7" height="348.7" fill="#E6FCE2" stroke="#7f8c7f" stroke-width="1.4"/>
<text class="strip" text-anchor="middle" transform="translate(725.8 216.9) rotate(90)">Skin</text>
<rect x="716.9" y="399.4" width="34.7" height="1169.7" fill="#D2B48C" stroke="#7d6a52" stroke-width="1.4"/>
<text class="strip" text-anchor="middle" transform="translate(725.8 984.2) rotate(90)">Soil</text>
<text class="lab navy" x="488.5" y="68.9" text-anchor="end"><tspan class="it">Firmicutes</tspan> 74%</text>
<path d="M491.5 62.9H495.7" stroke="#4d4d4d" stroke-width="1.6"/>
<text class="lab navy" x="488.5" y="103.2" text-anchor="end"><tspan class="it">Actinobacteriota</tspan> 23%</text>
<path d="M491.5 97.2H495.7" stroke="#4d4d4d" stroke-width="1.6"/>
<text class="lab navy" x="488.5" y="137.4" text-anchor="end"><tspan class="it">Proteobacteria</tspan> 2.7%</text>
<path d="M491.5 131.4H495.7" stroke="#4d4d4d" stroke-width="1.6"/>
<text class="lab navy" x="488.5" y="171.7" text-anchor="end"><tspan class="it">Bacteroidota</tspan> 0.035%</text>
<path d="M491.5 165.7H495.7" stroke="#4d4d4d" stroke-width="1.6"/>
<text class="lab navy" x="488.5" y="205.9" text-anchor="end"><tspan class="it">Campilobacterota</tspan> 0.019%</text>
<path d="M491.5 199.9H495.7" stroke="#4d4d4d" stroke-width="1.6"/>
<text class="lab navy" x="488.5" y="240.2" text-anchor="end"><tspan class="it">Deinococcota</tspan> 0.0075%</text>
<path d="M491.5 234.2H495.7" stroke="#4d4d4d" stroke-width="1.6"/>
<text class="lab navy" x="488.5" y="274.5" text-anchor="end"><tspan class="it">Fusobacteriota</tspan> 0.0072%</text>
<path d="M491.5 268.5H495.7" stroke="#4d4d4d" stroke-width="1.6"/>
<text class="lab navy" x="488.5" y="308.7" text-anchor="end"><tspan class="it">d__Bacteria;__</tspan> 0.0062%</text>
<path d="M491.5 302.7H495.7" stroke="#4d4d4d" stroke-width="1.6"/>
<text class="lab red" x="488.5" y="343.0" text-anchor="end"><tspan class="it">Crenarchaeota</tspan> 0.0053%</text>
<path d="M491.5 337.0H495.7" stroke="#4d4d4d" stroke-width="1.6"/>
<text class="lab navy" x="488.5" y="377.2" text-anchor="end"><tspan class="it">Verrucomicrobiota</tspan> 0.0023%</text>
<path d="M491.5 371.2H495.7" stroke="#4d4d4d" stroke-width="1.6"/>
<text class="lab red" x="488.5" y="425.1" text-anchor="end"><tspan class="it">Crenarchaeota</tspan> 22%</text>
<path d="M491.5 419.1H495.7" stroke="#4d4d4d" stroke-width="1.6"/>
<text class="lab navy" x="488.5" y="459.4" text-anchor="end"><tspan class="it">Proteobacteria</tspan> 22%</text>
<path d="M491.5 453.4H495.7" stroke="#4d4d4d" stroke-width="1.6"/>
<text class="lab navy" x="488.5" y="493.6" text-anchor="end"><tspan class="it">Actinobacteriota</tspan> 22%</text>
<path d="M491.5 487.6H495.7" stroke="#4d4d4d" stroke-width="1.6"/>
<text class="lab navy" x="488.5" y="527.9" text-anchor="end"><tspan class="it">Chloroflexi</tspan> 7.8%</text>
<path d="M491.5 521.9H495.7" stroke="#4d4d4d" stroke-width="1.6"/>
<text class="lab navy" x="488.5" y="562.1" text-anchor="end"><tspan class="it">Acidobacteriota</tspan> 6.3%</text>
<path d="M491.5 556.1H495.7" stroke="#4d4d4d" stroke-width="1.6"/>
<text class="lab navy" x="488.5" y="596.4" text-anchor="end"><tspan class="it">Bacteroidota</tspan> 5.1%</text>
<path d="M491.5 590.4H495.7" stroke="#4d4d4d" stroke-width="1.6"/>
<text class="lab navy" x="488.5" y="630.7" text-anchor="end"><tspan class="it">Planctomycetota</tspan> 4.7%</text>
<path d="M491.5 624.7H495.7" stroke="#4d4d4d" stroke-width="1.6"/>
<text class="lab navy" x="488.5" y="664.9" text-anchor="end"><tspan class="it">Gemmatimonadota</tspan> 4.4%</text>
<path d="M491.5 658.9H495.7" stroke="#4d4d4d" stroke-width="1.6"/>
<text class="lab navy" x="488.5" y="699.2" text-anchor="end"><tspan class="it">Myxococcota</tspan> 2.2%</text>
<path d="M491.5 693.2H495.7" stroke="#4d4d4d" stroke-width="1.6"/>
<text class="lab navy" x="488.5" y="733.4" text-anchor="end"><tspan class="it">Firmicutes</tspan> 1.6%</text>
<path d="M491.5 727.4H495.7" stroke="#4d4d4d" stroke-width="1.6"/>
<text class="lab navy" x="488.5" y="767.7" text-anchor="end"><tspan class="it">Verrucomicrobiota</tspan> 1%</text>
<path d="M491.5 761.7H495.7" stroke="#4d4d4d" stroke-width="1.6"/>
<text class="lab navy" x="488.5" y="802.0" text-anchor="end"><tspan class="it">d__Bacteria;__</tspan> 0.43%</text>
<path d="M491.5 796.0H495.7" stroke="#4d4d4d" stroke-width="1.6"/>
<text class="lab navy" x="488.5" y="836.2" text-anchor="end"><tspan class="it">Patescibacteria</tspan> 0.28%</text>
<path d="M491.5 830.2H495.7" stroke="#4d4d4d" stroke-width="1.6"/>
<text class="lab navy" x="488.5" y="870.5" text-anchor="end"><tspan class="it">Bdellovibrionota</tspan> 0.26%</text>
<path d="M491.5 864.5H495.7" stroke="#4d4d4d" stroke-width="1.6"/>
<text class="lab navy" x="488.5" y="904.7" text-anchor="end"><tspan class="it">Armatimonadota</tspan> 0.21%</text>
<path d="M491.5 898.7H495.7" stroke="#4d4d4d" stroke-width="1.6"/>
<text class="lab navy" x="488.5" y="939.0" text-anchor="end"><tspan class="it">Entotheonellaeota</tspan> 0.18%</text>
<path d="M491.5 933.0H495.7" stroke="#4d4d4d" stroke-width="1.6"/>
<text class="lab navy" x="488.5" y="973.3" text-anchor="end"><tspan class="it">Nitrospirota</tspan> 0.092%</text>
<path d="M491.5 967.3H495.7" stroke="#4d4d4d" stroke-width="1.6"/>
<text class="lab navy" x="488.5" y="1007.5" text-anchor="end"><tspan class="it">Elusimicrobiota</tspan> 0.035%</text>
<path d="M491.5 1001.5H495.7" stroke="#4d4d4d" stroke-width="1.6"/>
<text class="lab navy" x="488.5" y="1041.8" text-anchor="end"><tspan class="it">Fibrobacterota</tspan> 0.03%</text>
<path d="M491.5 1035.8H495.7" stroke="#4d4d4d" stroke-width="1.6"/>
<text class="lab navy" x="488.5" y="1076.0" text-anchor="end"><tspan class="it">Sumerlaeota</tspan> 0.029%</text>
<path d="M491.5 1070.0H495.7" stroke="#4d4d4d" stroke-width="1.6"/>
<text class="lab navy" x="488.5" y="1110.3" text-anchor="end"><tspan class="it">Methylomirabilota</tspan> 0.028%</text>
<path d="M491.5 1104.3H495.7" stroke="#4d4d4d" stroke-width="1.6"/>
<text class="lab navy" x="488.5" y="1144.6" text-anchor="end"><tspan class="it">Cyanobacteria</tspan> 0.028%</text>
<path d="M491.5 1138.6H495.7" stroke="#4d4d4d" stroke-width="1.6"/>
<text class="lab red" x="488.5" y="1178.8" text-anchor="end"><tspan class="it">Nanoarchaeota</tspan> 0.02%</text>
<path d="M491.5 1172.8H495.7" stroke="#4d4d4d" stroke-width="1.6"/>
<text class="lab navy" x="488.5" y="1213.1" text-anchor="end"><tspan class="it">Desulfobacterota</tspan> 0.017%</text>
<path d="M491.5 1207.1H495.7" stroke="#4d4d4d" stroke-width="1.6"/>
<text class="lab red" x="488.5" y="1247.3" text-anchor="end"><tspan class="it">Thermoplasmatota</tspan> 0.016%</text>
<path d="M491.5 1241.3H495.7" stroke="#4d4d4d" stroke-width="1.6"/>
<text class="lab navy" x="488.5" y="1281.6" text-anchor="end"><tspan class="it">Abditibacteriota</tspan> 0.014%</text>
<path d="M491.5 1275.6H495.7" stroke="#4d4d4d" stroke-width="1.6"/>
<text class="lab navy" x="488.5" y="1315.9" text-anchor="end"><tspan class="it">Latescibacterota</tspan> 0.011%</text>
<path d="M491.5 1309.9H495.7" stroke="#4d4d4d" stroke-width="1.6"/>
<text class="lab navy" x="488.5" y="1350.1" text-anchor="end"><tspan class="it">RCP2-54</tspan> 0.0097%</text>
<path d="M491.5 1344.1H495.7" stroke="#4d4d4d" stroke-width="1.6"/>
<text class="lab red" x="488.5" y="1384.4" text-anchor="end"><tspan class="it">d__Archaea;__</tspan> 0.0094%</text>
<path d="M491.5 1378.4H495.7" stroke="#4d4d4d" stroke-width="1.6"/>
<text class="lab navy" x="488.5" y="1418.6" text-anchor="end"><tspan class="it">SAR324_clade(Marine_group_B)</tspan> 0.0074%</text>
<path d="M491.5 1412.6H495.7" stroke="#4d4d4d" stroke-width="1.6"/>
<text class="lab navy" x="488.5" y="1452.9" text-anchor="end"><tspan class="it">Deinococcota</tspan> 0.0051%</text>
<path d="M491.5 1446.9H495.7" stroke="#4d4d4d" stroke-width="1.6"/>
<text class="lab navy" x="488.5" y="1487.2" text-anchor="end"><tspan class="it">WPS-2</tspan> 0.0034%</text>
<path d="M491.5 1481.2H495.7" stroke="#4d4d4d" stroke-width="1.6"/>
<text class="lab navy" x="488.5" y="1521.4" text-anchor="end"><tspan class="it">Dependentiae</tspan> 0.0033%</text>
<path d="M491.5 1515.4H495.7" stroke="#4d4d4d" stroke-width="1.6"/>
<text class="lab navy" x="488.5" y="1555.7" text-anchor="end"><tspan class="it">WS2</tspan> 0.0014%</text>
<path d="M491.5 1549.7H495.7" stroke="#4d4d4d" stroke-width="1.6"/>
<path d="M505.8 1569.3v4" stroke="#333" stroke-width="1.5"/>
<text class="ax" x="489.8" y="1594.5">10<tspan class="sup" dy="-7.5">-3</tspan></text>
<path d="M554.2 1569.3v4" stroke="#333" stroke-width="1.5"/>
<text class="ax" x="539.3" y="1594.5">10<tspan class="sup" dy="-7.5">-1</tspan></text>
<path d="M602.8 1569.3v4" stroke="#333" stroke-width="1.5"/>
<text class="ax" x="590.5" y="1594.5">10<tspan class="sup" dy="-7.5">1</tspan></text>
<path d="M651.2 1569.3v4" stroke="#333" stroke-width="1.5"/>
<text class="ax" x="639.0" y="1594.5">10<tspan class="sup" dy="-7.5">3</tspan></text>
<path d="M699.8 1569.3v4" stroke="#333" stroke-width="1.5"/>
<text class="ax" x="687.5" y="1594.5">10<tspan class="sup" dy="-7.5">5</tspan></text>
<rect x="773.6" y="684.3" width="20.4" height="22.2" fill="#666666"/>
<text class="leg2" x="802.5" y="704.5">St</text>
<rect x="773.6" y="708.9" width="20.4" height="22.2" fill="#E2AC2A"/>
<text class="leg2" x="802.5" y="729.1">Tr</text>
<rect x="773.6" y="733.4" width="20.4" height="22.2" fill="#8B1A1A"/>
<text class="leg2" x="802.5" y="753.6">V1</text>
<rect x="773.6" y="758.0" width="20.4" height="22.2" fill="#329A47"/>
<text class="leg2" x="802.5" y="778.2">V2</text>
<rect x="773.6" y="782.5" width="20.4" height="22.2" fill="#FF3E96"/>
<text class="leg2" x="802.5" y="802.7">V3</text>
<rect x="773.6" y="807.1" width="20.4" height="22.2" fill="#1F6699"/>
<text class="leg2" x="802.5" y="827.3">V4</text>
<rect x="773.6" y="831.7" width="20.4" height="22.2" fill="#00FF00"/>
<text class="leg2" x="802.5" y="851.9">V5</text>
<rect x="773.6" y="856.2" width="20.4" height="22.2" fill="#F07585"/>
<text class="leg2" x="802.5" y="876.4">V6</text>
<rect x="773.6" y="880.8" width="20.4" height="22.2" fill="#7FFFD4"/>
<text class="leg2" x="802.5" y="901.0">V7</text>
<rect x="773.6" y="905.3" width="20.4" height="22.2" fill="#DB86E0"/>
<text class="leg2" x="802.5" y="925.5">V8</text>
<rect x="864.0" y="42.2" width="183.5" height="349.7" fill="#EBEBEB"/>
<path d="M881.83 42.2V391.9M926.35 42.2V391.9M970.87 42.2V391.9M1015.39 42.2V391.9" stroke="#fff" stroke-width="0.8" fill="none"/>
<path d="M904.09 42.2V391.9M948.61 42.2V391.9M993.13 42.2V391.9M1037.65 42.2V391.9" stroke="#fff" stroke-width="1.6" fill="none"/>
<path d="M864.0 62.90H1047.5M864.0 97.16H1047.5M864.0 131.42H1047.5M864.0 165.68H1047.5M864.0 199.94H1047.5M864.0 234.20H1047.5M864.0 268.46H1047.5M864.0 302.72H1047.5M864.0 336.98H1047.5M864.0 371.24H1047.5" stroke="#fff" stroke-width="1.6" fill="none"/>
<rect x="982.00" y="54.68" width="0.34" height="2.74" fill="#8B1A1A"/>
<rect x="982.00" y="60.16" width="0.34" height="2.74" fill="#FF3E96"/>
<rect x="978.00" y="88.94" width="4.00" height="2.74" fill="#8B1A1A"/>
<rect x="982.00" y="91.68" width="0.34" height="2.74" fill="#329A47"/>
<rect x="979.71" y="94.42" width="2.29" height="2.74" fill="#FF3E96"/>
<rect x="982.00" y="99.90" width="0.34" height="2.74" fill="#00FF00"/>
<rect x="977.43" y="123.20" width="4.57" height="2.74" fill="#8B1A1A"/>
<rect x="980.29" y="128.68" width="1.71" height="2.74" fill="#FF3E96"/>
<rect x="980.86" y="131.42" width="1.14" height="2.74" fill="#1F6699"/>
<rect x="982.00" y="134.16" width="0.46" height="2.74" fill="#00FF00"/>
<rect x="982.00" y="136.90" width="3.43" height="2.74" fill="#F07585"/>
<rect x="982.00" y="142.38" width="0.57" height="2.74" fill="#DB86E0"/>
<rect x="975.14" y="151.98" width="6.86" height="2.74" fill="#666666"/>
<rect x="975.71" y="154.72" width="6.29" height="2.74" fill="#E2AC2A"/>
<rect x="982.00" y="157.46" width="20.57" height="2.74" fill="#8B1A1A"/>
<rect x="968.29" y="160.20" width="13.71" height="2.74" fill="#329A47"/>
<rect x="982.00" y="162.94" width="4.57" height="2.74" fill="#FF3E96"/>
<rect x="974.00" y="165.68" width="8.00" height="2.74" fill="#1F6699"/>
<rect x="978.57" y="168.42" width="3.43" height="2.74" fill="#00FF00"/>
<rect x="978.00" y="171.16" width="4.00" height="2.74" fill="#F07585"/>
<rect x="973.43" y="173.90" width="8.57" height="2.74" fill="#7FFFD4"/>
<rect x="971.14" y="176.64" width="10.86" height="2.74" fill="#DB86E0"/>
<rect x="965.43" y="191.72" width="16.57" height="2.74" fill="#8B1A1A"/>
<rect x="982.00" y="194.46" width="2.86" height="2.74" fill="#329A47"/>
<rect x="973.43" y="197.20" width="8.57" height="2.74" fill="#FF3E96"/>
<rect x="982.00" y="199.94" width="3.43" height="2.74" fill="#1F6699"/>
<rect x="982.00" y="202.68" width="5.14" height="2.74" fill="#00FF00"/>
<rect x="980.86" y="205.42" width="1.14" height="2.74" fill="#F07585"/>
<rect x="981.43" y="225.98" width="0.57" height="2.74" fill="#8B1A1A"/>
<rect x="980.86" y="228.72" width="1.14" height="2.74" fill="#329A47"/>
<rect x="980.29" y="231.46" width="1.71" height="2.74" fill="#FF3E96"/>
<rect x="974.00" y="234.20" width="8.00" height="2.74" fill="#1F6699"/>
<rect x="980.29" y="236.94" width="1.71" height="2.74" fill="#00FF00"/>
<rect x="982.00" y="239.68" width="5.14" height="2.74" fill="#F07585"/>
<rect x="982.00" y="242.42" width="3.43" height="2.74" fill="#7FFFD4"/>
<rect x="982.00" y="245.16" width="1.71" height="2.74" fill="#DB86E0"/>
<rect x="968.86" y="254.76" width="13.14" height="2.74" fill="#666666"/>
<rect x="973.43" y="257.50" width="8.57" height="2.74" fill="#E2AC2A"/>
<rect x="982.00" y="260.24" width="8.00" height="2.74" fill="#8B1A1A"/>
<rect x="970.57" y="262.98" width="11.43" height="2.74" fill="#329A47"/>
<rect x="982.00" y="265.72" width="16.00" height="2.74" fill="#FF3E96"/>
<rect x="976.86" y="268.46" width="5.14" height="2.74" fill="#1F6699"/>
<rect x="980.86" y="271.20" width="1.14" height="2.74" fill="#00FF00"/>
<rect x="954.57" y="273.94" width="27.43" height="2.74" fill="#F07585"/>
<rect x="982.00" y="279.42" width="3.43" height="2.74" fill="#DB86E0"/>
<rect x="952.29" y="289.02" width="29.71" height="2.74" fill="#666666"/>
<rect x="937.43" y="291.76" width="44.57" height="2.74" fill="#E2AC2A"/>
<rect x="982.00" y="294.50" width="26.86" height="2.74" fill="#8B1A1A"/>
<rect x="915.14" y="297.24" width="66.86" height="2.74" fill="#329A47"/>
<rect x="982.00" y="299.98" width="17.71" height="2.74" fill="#FF3E96"/>
<rect x="864.00" y="302.72" width="118.00" height="2.74" fill="#1F6699"/>
<rect x="926.57" y="305.46" width="55.43" height="2.74" fill="#00FF00"/>
<rect x="975.71" y="308.20" width="6.29" height="2.74" fill="#F07585"/>
<rect x="952.29" y="310.94" width="29.71" height="2.74" fill="#7FFFD4"/>
<rect x="969.43" y="313.68" width="12.57" height="2.74" fill="#DB86E0"/>
<rect x="928.86" y="323.28" width="53.14" height="2.74" fill="#666666"/>
<rect x="960.29" y="326.02" width="21.71" height="2.74" fill="#E2AC2A"/>
<rect x="982.00" y="328.76" width="24.00" height="2.74" fill="#8B1A1A"/>
<rect x="864.00" y="331.50" width="118.00" height="2.74" fill="#329A47"/>
<rect x="982.00" y="334.24" width="20.57" height="2.74" fill="#FF3E96"/>
<rect x="864.00" y="336.98" width="118.00" height="2.74" fill="#1F6699"/>
<rect x="952.86" y="339.72" width="29.14" height="2.74" fill="#00FF00"/>
<rect x="980.29" y="342.46" width="1.71" height="2.74" fill="#F07585"/>
<rect x="864.00" y="345.20" width="118.00" height="2.74" fill="#7FFFD4"/>
<rect x="970.57" y="347.94" width="11.43" height="2.74" fill="#DB86E0"/>
<rect x="928.86" y="357.54" width="53.14" height="2.74" fill="#666666"/>
<rect x="864.00" y="360.28" width="118.00" height="2.74" fill="#E2AC2A"/>
<rect x="864.00" y="363.02" width="118.00" height="2.74" fill="#8B1A1A"/>
<rect x="939.71" y="365.76" width="42.29" height="2.74" fill="#329A47"/>
<rect x="982.00" y="368.50" width="34.86" height="2.74" fill="#FF3E96"/>
<rect x="864.00" y="371.24" width="118.00" height="2.74" fill="#1F6699"/>
<rect x="864.00" y="373.98" width="118.00" height="2.74" fill="#00FF00"/>
<rect x="864.00" y="376.72" width="118.00" height="2.74" fill="#F07585"/>
<rect x="954.57" y="379.46" width="27.43" height="2.74" fill="#7FFFD4"/>
<rect x="979.71" y="382.20" width="2.29" height="2.74" fill="#DB86E0"/>
<path d="M982.0 42.2V391.9" stroke="#FF3DFF" stroke-width="1.5" stroke-dasharray="5.5 3.2" fill="none"/>
<text class="sig sigs" x="1047.5" y="68.1" text-anchor="end">*</text>
<text class="sig sigs" x="1047.5" y="102.4" text-anchor="end">*</text>
<text class="sig" x="1045.2" y="138.8" text-anchor="end">ns</text>
<text class="sig" x="1045.2" y="173.1" text-anchor="end">ns</text>
<text class="sig sigs" x="1047.5" y="205.1" text-anchor="end">*</text>
<text class="sig" x="1045.2" y="241.6" text-anchor="end">ns</text>
<text class="sig" x="1045.2" y="275.9" text-anchor="end">ns</text>
<text class="sig sigs" x="1047.5" y="307.9" text-anchor="end">*</text>
<text class="sig" x="1045.2" y="344.4" text-anchor="end">ns</text>
<text class="sig" x="1045.2" y="378.6" text-anchor="end">ns</text>
<rect x="864.0" y="399.0" width="183.5" height="1170.3" fill="#EBEBEB"/>
<path d="M881.83 399.0V1569.3M926.35 399.0V1569.3M970.87 399.0V1569.3M1015.39 399.0V1569.3" stroke="#fff" stroke-width="0.8" fill="none"/>
<path d="M904.09 399.0V1569.3M948.61 399.0V1569.3M993.13 399.0V1569.3M1037.65 399.0V1569.3" stroke="#fff" stroke-width="1.6" fill="none"/>
<path d="M864.0 419.10H1047.5M864.0 453.36H1047.5M864.0 487.62H1047.5M864.0 521.88H1047.5M864.0 556.14H1047.5M864.0 590.40H1047.5M864.0 624.66H1047.5M864.0 658.92H1047.5M864.0 693.18H1047.5M864.0 727.44H1047.5M864.0 761.70H1047.5M864.0 795.96H1047.5M864.0 830.22H1047.5M864.0 864.48H1047.5M864.0 898.74H1047.5M864.0 933.00H1047.5M864.0 967.26H1047.5M864.0 1001.52H1047.5M864.0 1035.78H1047.5M864.0 1070.04H1047.5M864.0 1104.30H1047.5M864.0 1138.56H1047.5M864.0 1172.82H1047.5M864.0 1207.08H1047.5M864.0 1241.34H1047.5M864.0 1275.60H1047.5M864.0 1309.86H1047.5M864.0 1344.12H1047.5M864.0 1378.38H1047.5M864.0 1412.64H1047.5M864.0 1446.90H1047.5M864.0 1481.16H1047.5M864.0 1515.42H1047.5M864.0 1549.68H1047.5" stroke="#fff" stroke-width="1.6" fill="none"/>
<rect x="945.33" y="405.40" width="36.67" height="2.74" fill="#666666"/>
<rect x="962.00" y="408.14" width="20.00" height="2.74" fill="#E2AC2A"/>
<rect x="982.00" y="410.88" width="12.67" height="2.74" fill="#8B1A1A"/>
<rect x="864.00" y="413.62" width="118.00" height="2.74" fill="#329A47"/>
<rect x="982.00" y="416.36" width="20.00" height="2.74" fill="#FF3E96"/>
<rect x="945.33" y="419.10" width="36.67" height="2.74" fill="#1F6699"/>
<rect x="948.67" y="421.84" width="33.33" height="2.74" fill="#00FF00"/>
<rect x="982.00" y="424.58" width="14.00" height="2.74" fill="#F07585"/>
<rect x="950.00" y="427.32" width="32.00" height="2.74" fill="#7FFFD4"/>
<rect x="982.00" y="430.06" width="2.00" height="2.74" fill="#DB86E0"/>
<rect x="982.00" y="439.66" width="4.00" height="2.74" fill="#666666"/>
<rect x="982.00" y="442.40" width="2.67" height="2.74" fill="#E2AC2A"/>
<rect x="972.67" y="445.14" width="9.33" height="2.74" fill="#8B1A1A"/>
<rect x="982.00" y="447.88" width="4.00" height="2.74" fill="#329A47"/>
<rect x="962.00" y="450.62" width="20.00" height="2.74" fill="#FF3E96"/>
<rect x="982.00" y="453.36" width="3.33" height="2.74" fill="#1F6699"/>
<rect x="982.00" y="456.10" width="3.33" height="2.74" fill="#00FF00"/>
<rect x="978.00" y="458.84" width="4.00" height="2.74" fill="#F07585"/>
<rect x="982.00" y="461.58" width="2.67" height="2.74" fill="#7FFFD4"/>
<rect x="982.00" y="473.92" width="4.67" height="2.74" fill="#666666"/>
<rect x="982.00" y="476.66" width="2.67" height="2.74" fill="#E2AC2A"/>
<rect x="974.00" y="479.40" width="8.00" height="2.74" fill="#8B1A1A"/>
<rect x="982.00" y="482.14" width="4.00" height="2.74" fill="#329A47"/>
<rect x="962.00" y="484.88" width="20.00" height="2.74" fill="#FF3E96"/>
<rect x="982.00" y="487.62" width="4.67" height="2.74" fill="#1F6699"/>
<rect x="982.00" y="490.36" width="3.33" height="2.74" fill="#00FF00"/>
<rect x="970.00" y="493.10" width="12.00" height="2.74" fill="#F07585"/>
<rect x="982.00" y="495.84" width="3.33" height="2.74" fill="#7FFFD4"/>
<rect x="982.00" y="508.18" width="4.00" height="2.74" fill="#666666"/>
<rect x="982.00" y="510.92" width="3.33" height="2.74" fill="#E2AC2A"/>
<rect x="975.33" y="513.66" width="6.67" height="2.74" fill="#8B1A1A"/>
<rect x="982.00" y="516.40" width="4.67" height="2.74" fill="#329A47"/>
<rect x="963.33" y="519.14" width="18.67" height="2.74" fill="#FF3E96"/>
<rect x="982.00" y="521.88" width="3.33" height="2.74" fill="#1F6699"/>
<rect x="982.00" y="524.62" width="4.00" height="2.74" fill="#00FF00"/>
<rect x="972.67" y="527.36" width="9.33" height="2.74" fill="#F07585"/>
<rect x="982.00" y="530.10" width="4.00" height="2.74" fill="#7FFFD4"/>
<rect x="980.00" y="532.84" width="2.00" height="2.74" fill="#DB86E0"/>
<rect x="982.00" y="542.44" width="3.33" height="2.74" fill="#666666"/>
<rect x="982.00" y="545.18" width="2.67" height="2.74" fill="#E2AC2A"/>
<rect x="974.67" y="547.92" width="7.33" height="2.74" fill="#8B1A1A"/>
<rect x="982.00" y="550.66" width="3.33" height="2.74" fill="#329A47"/>
<rect x="964.67" y="553.40" width="17.33" height="2.74" fill="#FF3E96"/>
<rect x="982.00" y="556.14" width="1.33" height="2.74" fill="#1F6699"/>
<rect x="982.00" y="558.88" width="4.00" height="2.74" fill="#00FF00"/>
<rect x="978.00" y="561.62" width="4.00" height="2.74" fill="#F07585"/>
<rect x="982.00" y="564.36" width="2.67" height="2.74" fill="#7FFFD4"/>
<rect x="980.67" y="567.10" width="1.33" height="2.74" fill="#DB86E0"/>
<rect x="982.00" y="576.70" width="3.33" height="2.74" fill="#666666"/>
<rect x="982.00" y="579.44" width="4.00" height="2.74" fill="#E2AC2A"/>
<rect x="970.67" y="582.18" width="11.33" height="2.74" fill="#8B1A1A"/>
<rect x="982.00" y="584.92" width="5.33" height="2.74" fill="#329A47"/>
<rect x="963.33" y="587.66" width="18.67" height="2.74" fill="#FF3E96"/>
<rect x="982.00" y="590.40" width="4.00" height="2.74" fill="#1F6699"/>
<rect x="982.00" y="593.14" width="4.67" height="2.74" fill="#00FF00"/>
<rect x="961.33" y="595.88" width="20.67" height="2.74" fill="#F07585"/>
<rect x="982.00" y="598.62" width="2.67" height="2.74" fill="#7FFFD4"/>
<rect x="982.00" y="601.36" width="2.00" height="2.74" fill="#DB86E0"/>
<rect x="981.33" y="610.96" width="0.67" height="2.74" fill="#666666"/>
<rect x="982.00" y="613.70" width="1.33" height="2.74" fill="#E2AC2A"/>
<rect x="982.00" y="616.44" width="2.00" height="2.74" fill="#8B1A1A"/>
<rect x="982.00" y="619.18" width="2.67" height="2.74" fill="#329A47"/>
<rect x="971.33" y="621.92" width="10.67" height="2.74" fill="#FF3E96"/>
<rect x="982.00" y="624.66" width="2.67" height="2.74" fill="#1F6699"/>
<rect x="982.00" y="627.40" width="2.00" height="2.74" fill="#00FF00"/>
<rect x="972.67" y="630.14" width="9.33" height="2.74" fill="#F07585"/>
<rect x="982.00" y="632.88" width="0.67" height="2.74" fill="#7FFFD4"/>
<rect x="980.00" y="635.62" width="2.00" height="2.74" fill="#DB86E0"/>
<rect x="982.00" y="645.22" width="4.00" height="2.74" fill="#666666"/>
<rect x="982.00" y="647.96" width="2.67" height="2.74" fill="#E2AC2A"/>
<rect x="974.00" y="650.70" width="8.00" height="2.74" fill="#8B1A1A"/>
<rect x="982.00" y="653.44" width="4.00" height="2.74" fill="#329A47"/>
<rect x="964.00" y="656.18" width="18.00" height="2.74" fill="#FF3E96"/>
<rect x="982.00" y="658.92" width="4.00" height="2.74" fill="#1F6699"/>
<rect x="982.00" y="661.66" width="3.33" height="2.74" fill="#00FF00"/>
<rect x="968.67" y="664.40" width="13.33" height="2.74" fill="#F07585"/>
<rect x="982.00" y="667.14" width="2.67" height="2.74" fill="#7FFFD4"/>
<rect x="982.00" y="669.88" width="0.67" height="2.74" fill="#DB86E0"/>
<rect x="982.00" y="679.48" width="0.67" height="2.74" fill="#666666"/>
<rect x="982.00" y="684.96" width="0.67" height="2.74" fill="#8B1A1A"/>
<rect x="982.00" y="687.70" width="1.33" height="2.74" fill="#329A47"/>
<rect x="970.00" y="690.44" width="12.00" height="2.74" fill="#FF3E96"/>
<rect x="982.00" y="693.18" width="1.33" height="2.74" fill="#1F6699"/>
<rect x="982.00" y="695.92" width="0.67" height="2.74" fill="#00FF00"/>
<rect x="980.67" y="698.66" width="1.33" height="2.74" fill="#F07585"/>
<rect x="982.00" y="701.40" width="1.33" height="2.74" fill="#7FFFD4"/>
<rect x="981.33" y="704.14" width="0.67" height="2.74" fill="#DB86E0"/>
<rect x="982.00" y="713.74" width="4.67" height="2.74" fill="#666666"/>
<rect x="982.00" y="716.48" width="2.67" height="2.74" fill="#E2AC2A"/>
<rect x="973.33" y="719.22" width="8.67" height="2.74" fill="#8B1A1A"/>
<rect x="982.00" y="721.96" width="4.00" height="2.74" fill="#329A47"/>
<rect x="965.33" y="724.70" width="16.67" height="2.74" fill="#FF3E96"/>
<rect x="982.00" y="727.44" width="2.00" height="2.74" fill="#1F6699"/>
<rect x="982.00" y="730.18" width="3.33" height="2.74" fill="#00FF00"/>
<rect x="972.67" y="732.92" width="9.33" height="2.74" fill="#F07585"/>
<rect x="982.00" y="735.66" width="2.67" height="2.74" fill="#7FFFD4"/>
<rect x="980.00" y="738.40" width="2.00" height="2.74" fill="#DB86E0"/>
<rect x="982.00" y="750.74" width="2.00" height="2.74" fill="#E2AC2A"/>
<rect x="982.00" y="753.48" width="1.33" height="2.74" fill="#8B1A1A"/>
<rect x="982.00" y="756.22" width="3.33" height="2.74" fill="#329A47"/>
<rect x="968.00" y="758.96" width="14.00" height="2.74" fill="#FF3E96"/>
<rect x="982.00" y="761.70" width="1.33" height="2.74" fill="#1F6699"/>
<rect x="982.00" y="764.44" width="2.67" height="2.74" fill="#00FF00"/>
<rect x="978.00" y="767.18" width="4.00" height="2.74" fill="#F07585"/>
<rect x="978.00" y="772.66" width="4.00" height="2.74" fill="#DB86E0"/>
<rect x="980.00" y="785.00" width="2.00" height="2.74" fill="#E2AC2A"/>
<rect x="982.00" y="787.74" width="14.00" height="2.74" fill="#8B1A1A"/>
<rect x="980.67" y="790.48" width="1.33" height="2.74" fill="#329A47"/>
<rect x="974.00" y="793.22" width="8.00" height="2.74" fill="#FF3E96"/>
<rect x="980.00" y="795.96" width="2.00" height="2.74" fill="#1F6699"/>
<rect x="980.67" y="798.70" width="1.33" height="2.74" fill="#00FF00"/>
<rect x="979.33" y="801.44" width="2.67" height="2.74" fill="#F07585"/>
<rect x="980.67" y="804.18" width="1.33" height="2.74" fill="#7FFFD4"/>
<rect x="977.33" y="806.92" width="4.67" height="2.74" fill="#DB86E0"/>
<rect x="982.00" y="816.52" width="2.67" height="2.74" fill="#666666"/>
<rect x="982.00" y="819.26" width="4.67" height="2.74" fill="#E2AC2A"/>
<rect x="972.67" y="822.00" width="9.33" height="2.74" fill="#8B1A1A"/>
<rect x="982.00" y="824.74" width="6.00" height="2.74" fill="#329A47"/>
<rect x="968.00" y="827.48" width="14.00" height="2.74" fill="#FF3E96"/>
<rect x="982.00" y="830.22" width="2.00" height="2.74" fill="#1F6699"/>
<rect x="982.00" y="832.96" width="4.67" height="2.74" fill="#00FF00"/>
<rect x="975.33" y="835.70" width="6.67" height="2.74" fill="#F07585"/>
<rect x="982.00" y="838.44" width="2.00" height="2.74" fill="#7FFFD4"/>
<rect x="975.33" y="841.18" width="6.67" height="2.74" fill="#DB86E0"/>
<rect x="982.00" y="850.78" width="2.67" height="2.74" fill="#666666"/>
<rect x="982.00" y="853.52" width="2.67" height="2.74" fill="#E2AC2A"/>
<rect x="978.67" y="856.26" width="3.33" height="2.74" fill="#8B1A1A"/>
<rect x="982.00" y="859.00" width="4.00" height="2.74" fill="#329A47"/>
<rect x="965.33" y="861.74" width="16.67" height="2.74" fill="#FF3E96"/>
<rect x="982.00" y="864.48" width="2.00" height="2.74" fill="#1F6699"/>
<rect x="982.00" y="867.22" width="2.00" height="2.74" fill="#00FF00"/>
<rect x="966.67" y="869.96" width="15.33" height="2.74" fill="#F07585"/>
<rect x="982.00" y="872.70" width="2.00" height="2.74" fill="#7FFFD4"/>
<rect x="982.00" y="875.44" width="2.00" height="2.74" fill="#DB86E0"/>
<rect x="982.00" y="885.04" width="4.67" height="2.74" fill="#666666"/>
<rect x="982.00" y="887.78" width="3.33" height="2.74" fill="#E2AC2A"/>
<rect x="977.33" y="890.52" width="4.67" height="2.74" fill="#8B1A1A"/>
<rect x="982.00" y="893.26" width="2.00" height="2.74" fill="#329A47"/>
<rect x="968.00" y="896.00" width="14.00" height="2.74" fill="#FF3E96"/>
<rect x="982.00" y="898.74" width="0.67" height="2.74" fill="#1F6699"/>
<rect x="982.00" y="901.48" width="2.67" height="2.74" fill="#00FF00"/>
<rect x="969.33" y="904.22" width="12.67" height="2.74" fill="#F07585"/>
<rect x="982.00" y="906.96" width="3.33" height="2.74" fill="#7FFFD4"/>
<rect x="982.00" y="909.70" width="0.67" height="2.74" fill="#DB86E0"/>
<rect x="981.33" y="919.30" width="0.67" height="2.74" fill="#666666"/>
<rect x="982.00" y="922.04" width="0.67" height="2.74" fill="#E2AC2A"/>
<rect x="982.00" y="924.78" width="4.67" height="2.74" fill="#8B1A1A"/>
<rect x="982.00" y="927.52" width="2.00" height="2.74" fill="#329A47"/>
<rect x="972.00" y="930.26" width="10.00" height="2.74" fill="#FF3E96"/>
<rect x="982.00" y="933.00" width="1.33" height="2.74" fill="#1F6699"/>
<rect x="982.00" y="935.74" width="0.67" height="2.74" fill="#00FF00"/>
<rect x="973.33" y="938.48" width="8.67" height="2.74" fill="#F07585"/>
<rect x="982.00" y="953.56" width="6.00" height="2.74" fill="#666666"/>
<rect x="982.00" y="956.30" width="4.67" height="2.74" fill="#E2AC2A"/>
<rect x="970.67" y="959.04" width="11.33" height="2.74" fill="#8B1A1A"/>
<rect x="982.00" y="961.78" width="4.00" height="2.74" fill="#329A47"/>
<rect x="966.00" y="964.52" width="16.00" height="2.74" fill="#FF3E96"/>
<rect x="982.00" y="967.26" width="5.33" height="2.74" fill="#1F6699"/>
<rect x="982.00" y="970.00" width="6.00" height="2.74" fill="#00FF00"/>
<rect x="956.67" y="972.74" width="25.33" height="2.74" fill="#F07585"/>
<rect x="982.00" y="975.48" width="3.33" height="2.74" fill="#7FFFD4"/>
<rect x="976.67" y="978.22" width="5.33" height="2.74" fill="#DB86E0"/>
<rect x="982.00" y="987.82" width="2.00" height="2.74" fill="#666666"/>
<rect x="980.67" y="990.56" width="1.33" height="2.74" fill="#E2AC2A"/>
<rect x="976.00" y="993.30" width="6.00" height="2.74" fill="#8B1A1A"/>
<rect x="982.00" y="996.04" width="0.67" height="2.74" fill="#329A47"/>
<rect x="966.67" y="998.78" width="15.33" height="2.74" fill="#FF3E96"/>
<rect x="982.00" y="1007.00" width="10.00" height="2.74" fill="#F07585"/>
<rect x="979.33" y="1012.48" width="2.67" height="2.74" fill="#DB86E0"/>
<rect x="982.00" y="1022.08" width="4.67" height="2.74" fill="#666666"/>
<rect x="981.33" y="1024.82" width="0.67" height="2.74" fill="#E2AC2A"/>
<rect x="979.33" y="1027.56" width="2.67" height="2.74" fill="#8B1A1A"/>
<rect x="982.00" y="1030.30" width="6.00" height="2.74" fill="#329A47"/>
<rect x="958.00" y="1033.04" width="24.00" height="2.74" fill="#FF3E96"/>
<rect x="982.00" y="1035.78" width="4.00" height="2.74" fill="#1F6699"/>
<rect x="982.00" y="1038.52" width="5.33" height="2.74" fill="#00FF00"/>
<rect x="945.33" y="1041.26" width="36.67" height="2.74" fill="#F07585"/>
<rect x="982.00" y="1044.00" width="1.33" height="2.74" fill="#7FFFD4"/>
<rect x="982.00" y="1056.34" width="4.00" height="2.74" fill="#666666"/>
<rect x="982.00" y="1059.08" width="2.67" height="2.74" fill="#E2AC2A"/>
<rect x="970.00" y="1061.82" width="12.00" height="2.74" fill="#8B1A1A"/>
<rect x="957.33" y="1067.30" width="24.67" height="2.74" fill="#FF3E96"/>
<rect x="979.33" y="1070.04" width="2.67" height="2.74" fill="#1F6699"/>
<rect x="982.00" y="1072.78" width="1.33" height="2.74" fill="#00FF00"/>
<rect x="982.00" y="1075.52" width="1.33" height="2.74" fill="#F07585"/>
<rect x="982.00" y="1078.26" width="1.33" height="2.74" fill="#7FFFD4"/>
<rect x="982.00" y="1081.00" width="6.00" height="2.74" fill="#DB86E0"/>
<rect x="982.00" y="1093.34" width="2.00" height="2.74" fill="#E2AC2A"/>
<rect x="979.33" y="1096.08" width="2.67" height="2.74" fill="#8B1A1A"/>
<rect x="982.00" y="1098.82" width="4.67" height="2.74" fill="#329A47"/>
<rect x="968.67" y="1101.56" width="13.33" height="2.74" fill="#FF3E96"/>
<rect x="982.00" y="1104.30" width="2.67" height="2.74" fill="#1F6699"/>
<rect x="982.00" y="1107.04" width="0.67" height="2.74" fill="#00FF00"/>
<rect x="972.00" y="1109.78" width="10.00" height="2.74" fill="#F07585"/>
<rect x="982.00" y="1112.52" width="3.33" height="2.74" fill="#7FFFD4"/>
<rect x="982.00" y="1124.86" width="4.00" height="2.74" fill="#666666"/>
<rect x="982.00" y="1127.60" width="1.33" height="2.74" fill="#E2AC2A"/>
<rect x="961.33" y="1130.34" width="20.67" height="2.74" fill="#8B1A1A"/>
<rect x="982.00" y="1133.08" width="8.00" height="2.74" fill="#329A47"/>
<rect x="968.00" y="1135.82" width="14.00" height="2.74" fill="#FF3E96"/>
<rect x="982.00" y="1138.56" width="6.00" height="2.74" fill="#1F6699"/>
<rect x="982.00" y="1141.30" width="2.67" height="2.74" fill="#00FF00"/>
<rect x="968.00" y="1144.04" width="14.00" height="2.74" fill="#F07585"/>
<rect x="920.67" y="1159.12" width="61.33" height="2.74" fill="#666666"/>
<rect x="958.67" y="1161.86" width="23.33" height="2.74" fill="#E2AC2A"/>
<rect x="982.00" y="1164.60" width="15.33" height="2.74" fill="#8B1A1A"/>
<rect x="944.00" y="1167.34" width="38.00" height="2.74" fill="#329A47"/>
<rect x="982.00" y="1170.08" width="12.67" height="2.74" fill="#FF3E96"/>
<rect x="934.67" y="1172.82" width="47.33" height="2.74" fill="#1F6699"/>
<rect x="945.33" y="1175.56" width="36.67" height="2.74" fill="#00FF00"/>
<rect x="982.00" y="1178.30" width="17.33" height="2.74" fill="#F07585"/>
<rect x="946.00" y="1181.04" width="36.00" height="2.74" fill="#7FFFD4"/>
<rect x="982.00" y="1183.78" width="6.00" height="2.74" fill="#DB86E0"/>
<rect x="981.33" y="1196.12" width="0.67" height="2.74" fill="#E2AC2A"/>
<rect x="982.00" y="1198.86" width="10.00" height="2.74" fill="#8B1A1A"/>
<rect x="961.33" y="1204.34" width="20.67" height="2.74" fill="#FF3E96"/>
<rect x="981.33" y="1207.08" width="0.67" height="2.74" fill="#1F6699"/>
<rect x="982.00" y="1209.82" width="3.33" height="2.74" fill="#00FF00"/>
<rect x="971.33" y="1212.56" width="10.67" height="2.74" fill="#F07585"/>
<rect x="980.67" y="1215.30" width="1.33" height="2.74" fill="#7FFFD4"/>
<rect x="982.00" y="1218.04" width="0.67" height="2.74" fill="#DB86E0"/>
<rect x="935.33" y="1227.64" width="46.67" height="2.74" fill="#666666"/>
<rect x="927.33" y="1230.38" width="54.67" height="2.74" fill="#E2AC2A"/>
<rect x="982.00" y="1233.12" width="30.00" height="2.74" fill="#8B1A1A"/>
<rect x="919.33" y="1235.86" width="62.67" height="2.74" fill="#329A47"/>
<rect x="982.00" y="1238.60" width="10.00" height="2.74" fill="#FF3E96"/>
<rect x="917.33" y="1241.34" width="64.67" height="2.74" fill="#1F6699"/>
<rect x="864.00" y="1244.08" width="118.00" height="2.74" fill="#00FF00"/>
<rect x="924.00" y="1249.56" width="58.00" height="2.74" fill="#7FFFD4"/>
<rect x="970.67" y="1252.30" width="11.33" height="2.74" fill="#DB86E0"/>
<rect x="982.00" y="1261.90" width="6.67" height="2.74" fill="#666666"/>
<rect x="982.00" y="1264.64" width="6.00" height="2.74" fill="#E2AC2A"/>
<rect x="982.00" y="1270.12" width="6.00" height="2.74" fill="#329A47"/>
<rect x="956.67" y="1272.86" width="25.33" height="2.74" fill="#FF3E96"/>
<rect x="982.00" y="1278.34" width="1.33" height="2.74" fill="#00FF00"/>
<rect x="977.33" y="1281.08" width="4.67" height="2.74" fill="#F07585"/>
<rect x="971.33" y="1286.56" width="10.67" height="2.74" fill="#DB86E0"/>
<rect x="982.00" y="1296.16" width="2.00" height="2.74" fill="#666666"/>
<rect x="982.00" y="1298.90" width="2.00" height="2.74" fill="#E2AC2A"/>
<rect x="945.33" y="1301.64" width="36.67" height="2.74" fill="#8B1A1A"/>
<rect x="982.00" y="1304.38" width="4.00" height="2.74" fill="#329A47"/>
<rect x="950.00" y="1307.12" width="32.00" height="2.74" fill="#FF3E96"/>
<rect x="982.00" y="1309.86" width="6.00" height="2.74" fill="#1F6699"/>
<rect x="982.00" y="1312.60" width="1.33" height="2.74" fill="#00FF00"/>
<rect x="976.00" y="1315.34" width="6.00" height="2.74" fill="#F07585"/>
<rect x="982.00" y="1318.08" width="0.67" height="2.74" fill="#7FFFD4"/>
<rect x="982.00" y="1320.82" width="7.33" height="2.74" fill="#DB86E0"/>
<rect x="982.00" y="1335.90" width="10.00" height="2.74" fill="#8B1A1A"/>
<rect x="982.00" y="1338.64" width="6.00" height="2.74" fill="#329A47"/>
<rect x="970.67" y="1341.38" width="11.33" height="2.74" fill="#FF3E96"/>
<rect x="981.33" y="1344.12" width="0.67" height="2.74" fill="#1F6699"/>
<rect x="964.00" y="1349.60" width="18.00" height="2.74" fill="#F07585"/>
<rect x="976.00" y="1355.08" width="6.00" height="2.74" fill="#DB86E0"/>
<rect x="921.33" y="1364.68" width="60.67" height="2.74" fill="#666666"/>
<rect x="864.00" y="1367.42" width="118.00" height="2.74" fill="#E2AC2A"/>
<rect x="982.00" y="1370.16" width="35.33" height="2.74" fill="#8B1A1A"/>
<rect x="864.00" y="1372.90" width="118.00" height="2.74" fill="#329A47"/>
<rect x="964.67" y="1375.64" width="17.33" height="2.74" fill="#FF3E96"/>
<rect x="864.00" y="1378.38" width="118.00" height="2.74" fill="#1F6699"/>
<rect x="864.00" y="1381.12" width="118.00" height="2.74" fill="#00FF00"/>
<rect x="972.00" y="1383.86" width="10.00" height="2.74" fill="#F07585"/>
<rect x="921.33" y="1386.60" width="60.67" height="2.74" fill="#7FFFD4"/>
<rect x="928.00" y="1389.34" width="54.00" height="2.74" fill="#DB86E0"/>
<rect x="982.00" y="1398.94" width="6.00" height="2.74" fill="#666666"/>
<rect x="968.67" y="1404.42" width="13.33" height="2.74" fill="#8B1A1A"/>
<rect x="982.00" y="1407.16" width="4.67" height="2.74" fill="#329A47"/>
<rect x="958.00" y="1409.90" width="24.00" height="2.74" fill="#FF3E96"/>
<rect x="977.33" y="1412.64" width="4.67" height="2.74" fill="#1F6699"/>
<rect x="982.00" y="1415.38" width="2.67" height="2.74" fill="#00FF00"/>
<rect x="972.67" y="1418.12" width="9.33" height="2.74" fill="#F07585"/>
<rect x="982.00" y="1420.86" width="8.67" height="2.74" fill="#7FFFD4"/>
<rect x="982.00" y="1423.60" width="2.67" height="2.74" fill="#DB86E0"/>
<rect x="982.00" y="1435.94" width="9.33" height="2.74" fill="#E2AC2A"/>
<rect x="942.00" y="1438.68" width="40.00" height="2.74" fill="#8B1A1A"/>
<rect x="948.67" y="1444.16" width="33.33" height="2.74" fill="#FF3E96"/>
<rect x="982.00" y="1449.64" width="8.00" height="2.74" fill="#00FF00"/>
<rect x="975.33" y="1452.38" width="6.67" height="2.74" fill="#F07585"/>
<rect x="982.00" y="1455.12" width="10.67" height="2.74" fill="#7FFFD4"/>
<rect x="978.00" y="1457.86" width="4.00" height="2.74" fill="#DB86E0"/>
<rect x="982.00" y="1467.46" width="2.00" height="2.74" fill="#666666"/>
<rect x="864.00" y="1472.94" width="118.00" height="2.74" fill="#8B1A1A"/>
<rect x="982.00" y="1478.42" width="1.33" height="2.74" fill="#FF3E96"/>
<rect x="976.00" y="1481.16" width="6.00" height="2.74" fill="#1F6699"/>
<rect x="982.00" y="1483.90" width="7.33" height="2.74" fill="#00FF00"/>
<rect x="949.33" y="1486.64" width="32.67" height="2.74" fill="#F07585"/>
<rect x="982.00" y="1489.38" width="6.67" height="2.74" fill="#7FFFD4"/>
<rect x="982.00" y="1492.12" width="6.00" height="2.74" fill="#DB86E0"/>
<rect x="982.00" y="1501.72" width="4.00" height="2.74" fill="#666666"/>
<rect x="982.00" y="1504.46" width="5.33" height="2.74" fill="#E2AC2A"/>
<rect x="952.67" y="1507.20" width="29.33" height="2.74" fill="#8B1A1A"/>
<rect x="982.00" y="1509.94" width="11.33" height="2.74" fill="#329A47"/>
<rect x="864.00" y="1512.68" width="118.00" height="2.74" fill="#FF3E96"/>
<rect x="977.33" y="1518.16" width="4.67" height="2.74" fill="#00FF00"/>
<rect x="960.00" y="1520.90" width="22.00" height="2.74" fill="#F07585"/>
<rect x="982.00" y="1523.64" width="8.00" height="2.74" fill="#7FFFD4"/>
<rect x="982.00" y="1526.38" width="4.00" height="2.74" fill="#DB86E0"/>
<rect x="982.00" y="1535.98" width="9.33" height="2.74" fill="#666666"/>
<rect x="982.00" y="1538.72" width="8.67" height="2.74" fill="#E2AC2A"/>
<rect x="980.67" y="1541.46" width="1.33" height="2.74" fill="#8B1A1A"/>
<rect x="982.00" y="1544.20" width="5.33" height="2.74" fill="#329A47"/>
<rect x="864.00" y="1546.94" width="118.00" height="2.74" fill="#FF3E96"/>
<rect x="982.00" y="1549.68" width="10.67" height="2.74" fill="#1F6699"/>
<rect x="976.00" y="1552.42" width="6.00" height="2.74" fill="#00FF00"/>
<rect x="864.00" y="1555.16" width="118.00" height="2.74" fill="#F07585"/>
<rect x="979.33" y="1557.90" width="2.67" height="2.74" fill="#7FFFD4"/>
<rect x="972.00" y="1560.64" width="10.00" height="2.74" fill="#DB86E0"/>
<path d="M982.0 399.0V1569.3" stroke="#FF3DFF" stroke-width="1.5" stroke-dasharray="5.5 3.2" fill="none"/>
<text class="sig sigs" x="1047.5" y="424.3" text-anchor="end">***</text>
<text class="sig sigs" x="1047.5" y="458.6" text-anchor="end">**</text>
<text class="sig sigs" x="1047.5" y="492.8" text-anchor="end">**</text>
<text class="sig sigs" x="1047.5" y="527.1" text-anchor="end">**</text>
<text class="sig sigs" x="1047.5" y="561.3" text-anchor="end">**</text>
<text class="sig sigs" x="1047.5" y="595.6" text-anchor="end">**</text>
<text class="sig sigs" x="1047.5" y="629.9" text-anchor="end">**</text>
<text class="sig sigs" x="1047.5" y="664.1" text-anchor="end">**</text>
<text class="sig sigs" x="1047.5" y="698.4" text-anchor="end">*</text>
<text class="sig sigs" x="1047.5" y="732.6" text-anchor="end">**</text>
<text class="sig sigs" x="1047.5" y="766.9" text-anchor="end">**</text>
<text class="sig sigs" x="1047.5" y="801.2" text-anchor="end">**</text>
<text class="sig sigs" x="1047.5" y="835.4" text-anchor="end">**</text>
<text class="sig sigs" x="1047.5" y="869.7" text-anchor="end">*</text>
<text class="sig" x="1045.2" y="906.1" text-anchor="end">ns</text>
<text class="sig sigs" x="1047.5" y="938.2" text-anchor="end">**</text>
<text class="sig sigs" x="1047.5" y="972.5" text-anchor="end">**</text>
<text class="sig" x="1045.2" y="1008.9" text-anchor="end">ns</text>
<text class="sig sigs" x="1047.5" y="1041.0" text-anchor="end">**</text>
<text class="sig sigs" x="1047.5" y="1075.2" text-anchor="end">*</text>
<text class="sig" x="1045.2" y="1111.7" text-anchor="end">ns</text>
<text class="sig sigs" x="1047.5" y="1143.8" text-anchor="end">**</text>
<text class="sig sigs" x="1047.5" y="1178.0" text-anchor="end">**</text>
<text class="sig" x="1045.2" y="1214.5" text-anchor="end">ns</text>
<text class="sig sigs" x="1047.5" y="1246.5" text-anchor="end">**</text>
<text class="sig" x="1045.2" y="1283.0" text-anchor="end">ns</text>
<text class="sig sigs" x="1047.5" y="1315.1" text-anchor="end">**</text>
<text class="sig" x="1045.2" y="1351.5" text-anchor="end">ns</text>
<text class="sig sigs" x="1047.5" y="1383.6" text-anchor="end">**</text>
<text class="sig" x="1045.2" y="1420.0" text-anchor="end">ns</text>
<text class="sig sigs" x="1047.5" y="1452.1" text-anchor="end">*</text>
<text class="sig sigs" x="1047.5" y="1486.4" text-anchor="end">*</text>
<text class="sig sigs" x="1047.5" y="1520.6" text-anchor="end">*</text>
<text class="sig" x="1045.2" y="1557.1" text-anchor="end">ns</text>
<rect x="1048.6" y="42.6" width="34.7" height="348.7" fill="#E6FCE2" stroke="#7f8c7f" stroke-width="1.4"/>
<text class="strip" text-anchor="middle" transform="translate(1057.4 216.9) rotate(90)">Skin</text>
<rect x="1048.6" y="399.4" width="34.7" height="1169.7" fill="#D2B48C" stroke="#7d6a52" stroke-width="1.4"/>
<text class="strip" text-anchor="middle" transform="translate(1057.4 984.2) rotate(90)">Soil</text>
<text class="lab navy" x="1090.4" y="68.9"><tspan class="it">Firmicutes</tspan> 74%</text>
<path d="M1084 62.9h3.3" stroke="#4d4d4d" stroke-width="1.6"/>
<text class="lab navy" x="1090.4" y="103.2"><tspan class="it">Actinobacteriota</tspan> 23%</text>
<path d="M1084 97.2h3.3" stroke="#4d4d4d" stroke-width="1.6"/>
<text class="lab navy" x="1090.4" y="137.4"><tspan class="it">Proteobacteria</tspan> 2.7%</text>
<path d="M1084 131.4h3.3" stroke="#4d4d4d" stroke-width="1.6"/>
<text class="lab navy" x="1090.4" y="171.7"><tspan class="it">Bacteroidota</tspan> 0.035%</text>
<path d="M1084 165.7h3.3" stroke="#4d4d4d" stroke-width="1.6"/>
<text class="lab navy" x="1090.4" y="205.9"><tspan class="it">Campilobacterota</tspan> 0.019%</text>
<path d="M1084 199.9h3.3" stroke="#4d4d4d" stroke-width="1.6"/>
<text class="lab navy" x="1090.4" y="240.2"><tspan class="it">Deinococcota</tspan> 0.0075%</text>
<path d="M1084 234.2h3.3" stroke="#4d4d4d" stroke-width="1.6"/>
<text class="lab navy" x="1090.4" y="274.5"><tspan class="it">Fusobacteriota</tspan> 0.0072%</text>
<path d="M1084 268.5h3.3" stroke="#4d4d4d" stroke-width="1.6"/>
<text class="lab navy" x="1090.4" y="308.7"><tspan class="it">d__Bacteria;__</tspan> 0.0062%</text>
<path d="M1084 302.7h3.3" stroke="#4d4d4d" stroke-width="1.6"/>
<text class="lab red" x="1090.4" y="343.0"><tspan class="it">Crenarchaeota</tspan> 0.0053%</text>
<path d="M1084 337.0h3.3" stroke="#4d4d4d" stroke-width="1.6"/>
<text class="lab navy" x="1090.4" y="377.2"><tspan class="it">Verrucomicrobiota</tspan> 0.0023%</text>
<path d="M1084 371.2h3.3" stroke="#4d4d4d" stroke-width="1.6"/>
<text class="lab red" x="1090.4" y="425.1"><tspan class="it">Crenarchaeota</tspan> 22%</text>
<path d="M1084 419.1h3.3" stroke="#4d4d4d" stroke-width="1.6"/>
<text class="lab navy" x="1090.4" y="459.4"><tspan class="it">Proteobacteria</tspan> 22%</text>
<path d="M1084 453.4h3.3" stroke="#4d4d4d" stroke-width="1.6"/>
<text class="lab navy" x="1090.4" y="493.6"><tspan class="it">Actinobacteriota</tspan> 22%</text>
<path d="M1084 487.6h3.3" stroke="#4d4d4d" stroke-width="1.6"/>
<text class="lab navy" x="1090.4" y="527.9"><tspan class="it">Chloroflexi</tspan> 7.8%</text>
<path d="M1084 521.9h3.3" stroke="#4d4d4d" stroke-width="1.6"/>
<text class="lab navy" x="1090.4" y="562.1"><tspan class="it">Acidobacteriota</tspan> 6.3%</text>
<path d="M1084 556.1h3.3" stroke="#4d4d4d" stroke-width="1.6"/>
<text class="lab navy" x="1090.4" y="596.4"><tspan class="it">Bacteroidota</tspan> 5.1%</text>
<path d="M1084 590.4h3.3" stroke="#4d4d4d" stroke-width="1.6"/>
<text class="lab navy" x="1090.4" y="630.7"><tspan class="it">Planctomycetota</tspan> 4.7%</text>
<path d="M1084 624.7h3.3" stroke="#4d4d4d" stroke-width="1.6"/>
<text class="lab navy" x="1090.4" y="664.9"><tspan class="it">Gemmatimonadota</tspan> 4.4%</text>
<path d="M1084 658.9h3.3" stroke="#4d4d4d" stroke-width="1.6"/>
<text class="lab navy" x="1090.4" y="699.2"><tspan class="it">Myxococcota</tspan> 2.2%</text>
<path d="M1084 693.2h3.3" stroke="#4d4d4d" stroke-width="1.6"/>
<text class="lab navy" x="1090.4" y="733.4"><tspan class="it">Firmicutes</tspan> 1.6%</text>
<path d="M1084 727.4h3.3" stroke="#4d4d4d" stroke-width="1.6"/>
<text class="lab navy" x="1090.4" y="767.7"><tspan class="it">Verrucomicrobiota</tspan> 1%</text>
<path d="M1084 761.7h3.3" stroke="#4d4d4d" stroke-width="1.6"/>
<text class="lab navy" x="1090.4" y="802.0"><tspan class="it">d__Bacteria;__</tspan> 0.43%</text>
<path d="M1084 796.0h3.3" stroke="#4d4d4d" stroke-width="1.6"/>
<text class="lab navy" x="1090.4" y="836.2"><tspan class="it">Patescibacteria</tspan> 0.28%</text>
<path d="M1084 830.2h3.3" stroke="#4d4d4d" stroke-width="1.6"/>
<text class="lab navy" x="1090.4" y="870.5"><tspan class="it">Bdellovibrionota</tspan> 0.26%</text>
<path d="M1084 864.5h3.3" stroke="#4d4d4d" stroke-width="1.6"/>
<text class="lab navy" x="1090.4" y="904.7"><tspan class="it">Armatimonadota</tspan> 0.21%</text>
<path d="M1084 898.7h3.3" stroke="#4d4d4d" stroke-width="1.6"/>
<text class="lab navy" x="1090.4" y="939.0"><tspan class="it">Entotheonellaeota</tspan> 0.18%</text>
<path d="M1084 933.0h3.3" stroke="#4d4d4d" stroke-width="1.6"/>
<text class="lab navy" x="1090.4" y="973.3"><tspan class="it">Nitrospirota</tspan> 0.092%</text>
<path d="M1084 967.3h3.3" stroke="#4d4d4d" stroke-width="1.6"/>
<text class="lab navy" x="1090.4" y="1007.5"><tspan class="it">Elusimicrobiota</tspan> 0.035%</text>
<path d="M1084 1001.5h3.3" stroke="#4d4d4d" stroke-width="1.6"/>
<text class="lab navy" x="1090.4" y="1041.8"><tspan class="it">Fibrobacterota</tspan> 0.03%</text>
<path d="M1084 1035.8h3.3" stroke="#4d4d4d" stroke-width="1.6"/>
<text class="lab navy" x="1090.4" y="1076.0"><tspan class="it">Sumerlaeota</tspan> 0.029%</text>
<path d="M1084 1070.0h3.3" stroke="#4d4d4d" stroke-width="1.6"/>
<text class="lab navy" x="1090.4" y="1110.3"><tspan class="it">Methylomirabilota</tspan> 0.028%</text>
<path d="M1084 1104.3h3.3" stroke="#4d4d4d" stroke-width="1.6"/>
<text class="lab navy" x="1090.4" y="1144.6"><tspan class="it">Cyanobacteria</tspan> 0.028%</text>
<path d="M1084 1138.6h3.3" stroke="#4d4d4d" stroke-width="1.6"/>
<text class="lab red" x="1090.4" y="1178.8"><tspan class="it">Nanoarchaeota</tspan> 0.02%</text>
<path d="M1084 1172.8h3.3" stroke="#4d4d4d" stroke-width="1.6"/>
<text class="lab navy" x="1090.4" y="1213.1"><tspan class="it">Desulfobacterota</tspan> 0.017%</text>
<path d="M1084 1207.1h3.3" stroke="#4d4d4d" stroke-width="1.6"/>
<text class="lab red" x="1090.4" y="1247.3"><tspan class="it">Thermoplasmatota</tspan> 0.016%</text>
<path d="M1084 1241.3h3.3" stroke="#4d4d4d" stroke-width="1.6"/>
<text class="lab navy" x="1090.4" y="1281.6"><tspan class="it">Abditibacteriota</tspan> 0.014%</text>
<path d="M1084 1275.6h3.3" stroke="#4d4d4d" stroke-width="1.6"/>
<text class="lab navy" x="1090.4" y="1315.9"><tspan class="it">Latescibacterota</tspan> 0.011%</text>
<path d="M1084 1309.9h3.3" stroke="#4d4d4d" stroke-width="1.6"/>
<text class="lab navy" x="1090.4" y="1350.1"><tspan class="it">RCP2-54</tspan> 0.0097%</text>
<path d="M1084 1344.1h3.3" stroke="#4d4d4d" stroke-width="1.6"/>
<text class="lab red" x="1090.4" y="1384.4"><tspan class="it">d__Archaea;__</tspan> 0.0094%</text>
<path d="M1084 1378.4h3.3" stroke="#4d4d4d" stroke-width="1.6"/>
<text class="lab navy" x="1090.4" y="1418.6"><tspan class="it">SAR324_clade(Marine_group_B)</tspan> 0.0074%</text>
<path d="M1084 1412.6h3.3" stroke="#4d4d4d" stroke-width="1.6"/>
<text class="lab navy" x="1090.4" y="1452.9"><tspan class="it">Deinococcota</tspan> 0.0051%</text>
<path d="M1084 1446.9h3.3" stroke="#4d4d4d" stroke-width="1.6"/>
<text class="lab navy" x="1090.4" y="1487.2"><tspan class="it">WPS-2</tspan> 0.0034%</text>
<path d="M1084 1481.2h3.3" stroke="#4d4d4d" stroke-width="1.6"/>
<text class="lab navy" x="1090.4" y="1521.4"><tspan class="it">Dependentiae</tspan> 0.0033%</text>
<path d="M1084 1515.4h3.3" stroke="#4d4d4d" stroke-width="1.6"/>
<text class="lab navy" x="1090.4" y="1555.7"><tspan class="it">WS2</tspan> 0.0014%</text>
<path d="M1084 1549.7h3.3" stroke="#4d4d4d" stroke-width="1.6"/>
<path d="M904.1 1569.3v4" stroke="#333" stroke-width="1.5"/>
<text class="ax" x="893.0" y="1594.5">2<tspan class="sup" dy="-7.5">-7</tspan></text>
<path d="M948.6 1569.3v4" stroke="#333" stroke-width="1.5"/>
<text class="ax" x="937.5" y="1594.5">2<tspan class="sup" dy="-7.5">-3</tspan></text>
<path d="M993.1 1569.3v4" stroke="#333" stroke-width="1.5"/>
<text class="ax" x="984.5" y="1594.5">2<tspan class="sup" dy="-7.5">1</tspan></text>
<path d="M1037.7 1569.3v4" stroke="#333" stroke-width="1.5"/>
<text class="ax" x="1029.1" y="1594.5">2<tspan class="sup" dy="-7.5">5</tspan></text>
<text class="big" x="63.3" y="136" textLength="71.3" lengthAdjust="spacingAndGlyphs">A</text>
<text class="big" x="765.2" y="135.5" textLength="61.6" lengthAdjust="spacingAndGlyphs">B</text>
<text class="big" x="1553.6" y="135.5" textLength="60.9" lengthAdjust="spacingAndGlyphs">C</text>
<rect x="1695.5" y="54.8" width="650.8" height="618.2" fill="#EBEBEB"/>
<path d="M1793.35 54.8V673.0M1994.65 54.8V673.0M2195.95 54.8V673.0" stroke="#fff" stroke-width="0.8" fill="none"/>
<path d="M1695.5 550.10H2346.3M1695.5 370.90H2346.3M1695.5 191.70H2346.3" stroke="#fff" stroke-width="0.8" fill="none"/>
<path d="M1894.00 54.8V673.0M2095.30 54.8V673.0M2296.60 54.8V673.0" stroke="#fff" stroke-width="1.6" fill="none"/>
<path d="M1695.5 639.70H2346.3M1695.5 460.50H2346.3M1695.5 281.30H2346.3M1695.5 102.10H2346.3" stroke="#fff" stroke-width="1.6" fill="none"/>
<path d="M1894.0 54.8V673.0M1695.5 460.5H2346.3" stroke="#333" stroke-width="1.6" stroke-dasharray="5 5.5" fill="none"/>
<ellipse cx="0" cy="0" rx="126.9" ry="35.1" transform="translate(1817.7 499.2) rotate(-44.7)" fill="none" stroke="#7FFFD4" stroke-width="1.7"/>
<ellipse cx="0" cy="0" rx="105.4" ry="23.1" transform="translate(1866.4 451.8) rotate(-57.6)" fill="none" stroke="#DB86E0" stroke-width="1.7"/>
<ellipse cx="0" cy="0" rx="69.6" ry="32.7" transform="translate(1844.6 486.3) rotate(-71.7)" fill="none" stroke="#329A47" stroke-width="1.7"/>
<ellipse cx="0" cy="0" rx="65.7" ry="10.3" transform="translate(1840.5 491.4) rotate(49.0)" fill="none" stroke="#1F6699" stroke-width="1.6"/>
<ellipse cx="0" cy="0" rx="53.8" ry="29.1" transform="translate(1831.8 484.6) rotate(-48.0)" fill="none" stroke="#00FF00" stroke-width="2.3"/>
<ellipse cx="0" cy="0" rx="61.7" ry="22.3" transform="translate(1808.3 494.9) rotate(-5.6)" fill="none" stroke="#666666" stroke-width="3.0"/>
<ellipse cx="0" cy="0" rx="62.1" ry="38.1" transform="translate(1815.5 493.2) rotate(38.0)" fill="none" stroke="#E2AC2A" stroke-width="3.2"/>
<ellipse cx="0" cy="0" rx="173.4" ry="71.0" transform="translate(1984.8 254.8) rotate(-84.1)" fill="none" stroke="#8B1A1A" stroke-width="1.6"/>
<ellipse cx="0" cy="0" rx="125.0" ry="36.0" transform="translate(2210.7 572.7) rotate(-32.5)" fill="none" stroke="#F07585" stroke-width="1.7"/>
<circle cx="1902.6" cy="365.1" r="2.6" fill="#FF3E96"/>
<circle cx="1915.4" cy="375.4" r="2.6" fill="#FF3E96"/>
<circle cx="1967.4" cy="302.8" r="2.6" fill="#FF3E96"/>
<circle cx="1868.8" cy="438.3" r="2.6" fill="#DB86E0"/>
<circle cx="1883.2" cy="437.8" r="2.6" fill="#DB86E0"/>
<circle cx="1861.8" cy="449.1" r="2.6" fill="#DB86E0"/>
<circle cx="1850.3" cy="481.2" r="2.6" fill="#DB86E0"/>
<circle cx="1856.0" cy="507.4" r="2.6" fill="#DB86E0"/>
<circle cx="1840.9" cy="469.1" r="2.6" fill="#00FF00"/>
<circle cx="1821.2" cy="489.7" r="2.6" fill="#00FF00"/>
<circle cx="1839.2" cy="488.9" r="2.6" fill="#00FF00"/>
<circle cx="1825.4" cy="490.6" r="2.6" fill="#00FF00"/>
<circle cx="1843.8" cy="470.3" r="2.6" fill="#329A47"/>
<circle cx="1843.4" cy="503.4" r="2.6" fill="#329A47"/>
<circle cx="1834.0" cy="493.7" r="2.6" fill="#329A47"/>
<circle cx="1833.7" cy="481.7" r="2.6" fill="#1F6699"/>
<circle cx="1836.1" cy="484.1" r="2.6" fill="#1F6699"/>
<circle cx="1836.6" cy="492.0" r="2.6" fill="#1F6699"/>
<circle cx="1805.7" cy="481.2" r="2.6" fill="#E2AC2A"/>
<circle cx="1805.2" cy="492.3" r="2.6" fill="#E2AC2A"/>
<circle cx="1830.9" cy="490.2" r="2.6" fill="#E2AC2A"/>
<circle cx="1821.5" cy="507.4" r="2.6" fill="#E2AC2A"/>
<circle cx="1800.2" cy="489.2" r="2.6" fill="#666666"/>
<circle cx="1801.8" cy="497.1" r="2.6" fill="#666666"/>
<circle cx="1809.7" cy="499.2" r="2.6" fill="#7FFFD4"/>
<circle cx="1803.1" cy="502.2" r="2.6" fill="#7FFFD4"/>
<circle cx="1809.1" cy="523.2" r="2.6" fill="#7FFFD4"/>
<circle cx="1991.8" cy="207.6" r="2.6" fill="#8B1A1A"/>
<circle cx="1996.3" cy="246.7" r="2.6" fill="#8B1A1A"/>
<circle cx="1960.1" cy="262.7" r="2.6" fill="#8B1A1A"/>
<circle cx="1989.7" cy="302.8" r="2.6" fill="#8B1A1A"/>
<circle cx="2227.4" cy="552.8" r="2.6" fill="#F07585"/>
<circle cx="2226.1" cy="565.7" r="2.6" fill="#F07585"/>
<circle cx="2214.8" cy="582.7" r="2.6" fill="#F07585"/>
<circle cx="2175.3" cy="589.7" r="2.6" fill="#F07585"/>
<rect x="2347.6" y="54.8" width="34.0" height="618.2" fill="#E6FCE2" stroke="#7f8c7f" stroke-width="1.4"/>
<text class="strip" text-anchor="middle" transform="translate(2356.1 363.9) rotate(90)">Skin</text>
<text class="perm" x="1701.2" y="77.2" textLength="230" lengthAdjust="spacingAndGlyphs">PERMANOVA&#160;&#160;p = 0.001</text>
<text class="perm" x="1701.2" y="99.6" textLength="198.2" lengthAdjust="spacingAndGlyphs">PERMDISP&#160;&#160;p = 0.48</text>
<text class="tk" x="1689.3" y="647.7" text-anchor="end">-10</text>
<path d="M1691 639.7H1695.5" stroke="#333" stroke-width="1.4"/>
<text class="tk" x="1689.3" y="468.5" text-anchor="end">0</text>
<path d="M1691 460.5H1695.5" stroke="#333" stroke-width="1.4"/>
<text class="tk" x="1689.3" y="289.3" text-anchor="end">10</text>
<path d="M1691 281.3H1695.5" stroke="#333" stroke-width="1.4"/>
<text class="tk" x="1689.3" y="110.1" text-anchor="end">20</text>
<path d="M1691 102.1H1695.5" stroke="#333" stroke-width="1.4"/>
<text class="tk" x="1894.0" y="696.2" text-anchor="middle">0</text>
<path d="M1894.0 673.0v4.3" stroke="#333" stroke-width="1.4"/>
<text class="tk" x="2095.3" y="696.2" text-anchor="middle">10</text>
<path d="M2095.3 673.0v4.3" stroke="#333" stroke-width="1.4"/>
<text class="tk" x="2296.6" y="696.2" text-anchor="middle">20</text>
<path d="M2296.6 673.0v4.3" stroke="#333" stroke-width="1.4"/>
<text class="ttl" x="1936.8" y="733.1" textLength="167" lengthAdjust="spacingAndGlyphs">PCA 1 (21.2%)</text>
<text class="ttl" transform="translate(1650.2 448.3) rotate(-90)" textLength="167" lengthAdjust="spacingAndGlyphs">PCA 2 (14.0%)</text>
<rect x="1836.2" y="758.5" width="33" height="32.4" fill="#EBEBEB"/>
<rect x="1839.6" y="764.6" width="26.3" height="20.2" fill="#666666"/>
<text class="leg" x="1877.2" y="783.9">St</text>
<rect x="1907.1" y="758.5" width="33" height="32.4" fill="#EBEBEB"/>
<rect x="1910.5" y="764.6" width="26.3" height="20.2" fill="#8B1A1A"/>
<text class="leg" x="1948.1" y="783.9">V1</text>
<rect x="1984.1" y="758.5" width="33" height="32.4" fill="#EBEBEB"/>
<rect x="1987.5" y="764.6" width="26.3" height="20.2" fill="#FF3E96"/>
<text class="leg" x="2025.0" y="783.9">V3</text>
<rect x="2060.5" y="758.5" width="33" height="32.4" fill="#EBEBEB"/>
<rect x="2063.9" y="764.6" width="26.3" height="20.2" fill="#00FF00"/>
<text class="leg" x="2101.3" y="783.9">V5</text>
<rect x="2137.1" y="758.5" width="33" height="32.4" fill="#EBEBEB"/>
<rect x="2140.5" y="764.6" width="26.3" height="20.2" fill="#7FFFD4"/>
<text class="leg" x="2177.7" y="783.9">V7</text>
<rect x="1836.2" y="798.8" width="33" height="32.4" fill="#EBEBEB"/>
<rect x="1839.6" y="804.9" width="26.3" height="20.2" fill="#E2AC2A"/>
<text class="leg" x="1877.2" y="824.2">Tr</text>
<rect x="1907.1" y="798.8" width="33" height="32.4" fill="#EBEBEB"/>
<rect x="1910.5" y="804.9" width="26.3" height="20.2" fill="#329A47"/>
<text class="leg" x="1948.1" y="824.2">V2</text>
<rect x="1984.1" y="798.8" width="33" height="32.4" fill="#EBEBEB"/>
<rect x="1987.5" y="804.9" width="26.3" height="20.2" fill="#1F6699"/>
<text class="leg" x="2025.0" y="824.2">V4</text>
<rect x="2060.5" y="798.8" width="33" height="32.4" fill="#EBEBEB"/>
<rect x="2063.9" y="804.9" width="26.3" height="20.2" fill="#F07585"/>
<text class="leg" x="2101.3" y="824.2">V6</text>
<rect x="2137.1" y="798.8" width="33" height="32.4" fill="#EBEBEB"/>
<rect x="2140.5" y="804.9" width="26.3" height="20.2" fill="#DB86E0"/>
<text class="leg" x="2177.7" y="824.2">V8</text>
<rect x="1695.5" y="863.0" width="650.8" height="680.3" fill="#EBEBEB"/>
<path d="M1844.85 863.0V1543.3M2065.35 863.0V1543.3M2285.85 863.0V1543.3" stroke="#fff" stroke-width="0.8" fill="none"/>
<path d="M1695.5 1488.60H2346.3M1695.5 1304.60H2346.3M1695.5 1120.60H2346.3M1695.5 936.60H2346.3" stroke="#fff" stroke-width="0.8" fill="none"/>
<path d="M1734.60 863.0V1543.3M1955.10 863.0V1543.3M2175.60 863.0V1543.3" stroke="#fff" stroke-width="1.6" fill="none"/>
<path d="M1695.5 1396.60H2346.3M1695.5 1212.60H2346.3M1695.5 1028.60H2346.3" stroke="#fff" stroke-width="1.6" fill="none"/>
<path d="M1955.1 863.0V1543.3M1695.5 1212.6H2346.3" stroke="#333" stroke-width="1.6" stroke-dasharray="5 5.5" fill="none"/>
<ellipse cx="0" cy="0" rx="84.4" ry="31.3" transform="translate(1824.2 1208.0) rotate(60.8)" fill="none" stroke="#7FFFD4" stroke-width="1.8"/>
<ellipse cx="0" cy="0" rx="71.1" ry="27.4" transform="translate(1791.1 1231.8) rotate(22.1)" fill="none" stroke="#329A47" stroke-width="1.9"/>
<ellipse cx="0" cy="0" rx="54.1" ry="22.5" transform="translate(1814.9 1211.7) rotate(63.9)" fill="none" stroke="#00FF00" stroke-width="2.3"/>
<ellipse cx="0" cy="0" rx="27.7" ry="9.8" transform="translate(1935.3 1217.6) rotate(-41.6)" fill="none" stroke="#DB86E0" stroke-width="1.7"/>
<ellipse cx="0" cy="0" rx="19.0" ry="13.5" transform="translate(1906.0 1234.4) rotate(-27.0)" fill="none" stroke="#666666" stroke-width="3"/>
<ellipse cx="0" cy="0" rx="58.0" ry="14.7" transform="translate(1908.0 1233.5) rotate(45.5)" fill="none" stroke="#E2AC2A" stroke-width="3"/>
<ellipse cx="0" cy="0" rx="80.2" ry="28.8" transform="translate(2143.8 922.0) rotate(-2.0)" fill="none" stroke="#F07585" stroke-width="1.7"/>
<ellipse cx="0" cy="0" rx="47.6" ry="20.1" transform="translate(2159.8 1286.6) rotate(3.4)" fill="none" stroke="#FF3E96" stroke-width="1.7"/>
<ellipse cx="0" cy="0" rx="154.6" ry="67.0" transform="translate(2224.1 1373.2) rotate(-61.7)" fill="none" stroke="#8B1A1A" stroke-width="1.6"/>
<circle cx="1769.6" cy="1221.5" r="2.6" fill="#329A47"/>
<circle cx="1805.0" cy="1228.5" r="2.6" fill="#329A47"/>
<circle cx="1793.3" cy="1238.5" r="2.6" fill="#329A47"/>
<circle cx="1797.1" cy="1238.7" r="2.6" fill="#329A47"/>
<circle cx="1823.6" cy="1216.2" r="2.6" fill="#329A47"/>
<circle cx="1809.9" cy="1196.1" r="2.6" fill="#00FF00"/>
<circle cx="1808.9" cy="1211.7" r="2.6" fill="#00FF00"/>
<circle cx="1817.6" cy="1222.5" r="2.6" fill="#00FF00"/>
<circle cx="1810.8" cy="1192.2" r="2.6" fill="#1F6699"/>
<circle cx="1807.5" cy="1206.1" r="2.6" fill="#1F6699"/>
<circle cx="1819.4" cy="1211.7" r="2.6" fill="#1F6699"/>
<circle cx="1819.0" cy="1192.2" r="2.6" fill="#7FFFD4"/>
<circle cx="1823.6" cy="1197.1" r="2.6" fill="#7FFFD4"/>
<circle cx="1839.4" cy="1230.9" r="2.6" fill="#7FFFD4"/>
<circle cx="1894.4" cy="1219.7" r="2.6" fill="#E2AC2A"/>
<circle cx="1909.1" cy="1236.9" r="2.6" fill="#E2AC2A"/>
<circle cx="1913.4" cy="1242.5" r="2.6" fill="#E2AC2A"/>
<circle cx="1916.2" cy="1233.4" r="2.6" fill="#E2AC2A"/>
<circle cx="1910.6" cy="1230.2" r="2.6" fill="#666666"/>
<circle cx="1902.8" cy="1232.4" r="2.6" fill="#666666"/>
<circle cx="1901.4" cy="1236.2" r="2.6" fill="#666666"/>
<circle cx="1936.5" cy="1212.8" r="2.6" fill="#DB86E0"/>
<circle cx="1938.8" cy="1215.6" r="2.6" fill="#DB86E0"/>
<circle cx="1937.4" cy="1219.4" r="2.6" fill="#DB86E0"/>
<circle cx="1928.4" cy="1223.2" r="2.6" fill="#DB86E0"/>
<circle cx="2144.0" cy="913.7" r="2.6" fill="#F07585"/>
<circle cx="2148.2" cy="920.6" r="2.6" fill="#F07585"/>
<circle cx="2119.4" cy="927.3" r="2.6" fill="#F07585"/>
<circle cx="2163.2" cy="927.3" r="2.6" fill="#F07585"/>
<circle cx="2154.0" cy="1280.3" r="2.6" fill="#FF3E96"/>
<circle cx="2152.7" cy="1290.0" r="2.6" fill="#FF3E96"/>
<circle cx="2156.6" cy="1289.2" r="2.6" fill="#FF3E96"/>
<circle cx="2176.0" cy="1287.5" r="2.6" fill="#FF3E96"/>
<circle cx="2208.0" cy="1365.6" r="2.6" fill="#8B1A1A"/>
<circle cx="2225.3" cy="1355.7" r="2.6" fill="#8B1A1A"/>
<circle cx="2253.6" cy="1352.7" r="2.6" fill="#8B1A1A"/>
<circle cx="2208.2" cy="1420.7" r="2.6" fill="#8B1A1A"/>
<rect x="2347.6" y="863.0" width="34.2" height="680.3" fill="#D2B48C" stroke="#7d6a52" stroke-width="1.4"/>
<text class="strip" text-anchor="middle" transform="translate(2356.2 1203.2) rotate(90)">Soil</text>
<text class="perm" x="1701.2" y="885.5" textLength="230" lengthAdjust="spacingAndGlyphs">PERMANOVA&#160;&#160;p = 0.001</text>
<text class="perm" x="1701.2" y="908" textLength="198.2" lengthAdjust="spacingAndGlyphs">PERMDISP&#160;&#160;p = 0.26</text>
<text class="tk" x="1689.3" y="1404.6" text-anchor="end">-40</text>
<path d="M1691 1396.6H1695.5" stroke="#333" stroke-width="1.4"/>
<text class="tk" x="1689.3" y="1220.6" text-anchor="end">0</text>
<path d="M1691 1212.6H1695.5" stroke="#333" stroke-width="1.4"/>
<text class="tk" x="1689.3" y="1036.6" text-anchor="end">40</text>
<path d="M1691 1028.6H1695.5" stroke="#333" stroke-width="1.4"/>
<text class="tk" x="1734.6" y="1565.9" text-anchor="middle">-50</text>
<path d="M1734.6 1543.3v4.3" stroke="#333" stroke-width="1.4"/>
<text class="tk" x="1955.1" y="1565.9" text-anchor="middle">0</text>
<path d="M1955.1 1543.3v4.3" stroke="#333" stroke-width="1.4"/>
<text class="tk" x="2175.6" y="1565.9" text-anchor="middle">50</text>
<path d="M2175.6 1543.3v4.3" stroke="#333" stroke-width="1.4"/>
<text class="ttl" x="1936.6" y="1602.3" textLength="167.5" lengthAdjust="spacingAndGlyphs">PCA 1 (12.6%)</text>
<text class="ttl" transform="translate(1650.2 1280.4) rotate(-90)" textLength="153.5" lengthAdjust="spacingAndGlyphs">PCA 2 (5.9%)</text>
</svg></body></html>
